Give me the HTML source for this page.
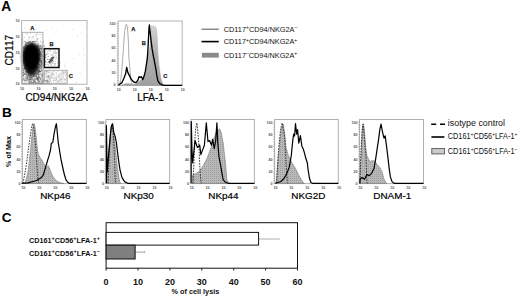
<!DOCTYPE html>
<html><head><meta charset="utf-8"><style>
html,body{margin:0;padding:0;background:#fff;}
svg{display:block;font-family:"Liberation Sans", sans-serif;}
</style></head><body>
<svg width="520" height="298" viewBox="0 0 520 298">
<rect width="520" height="298" fill="#fff"/>
<text x="1.2" y="11.1" font-size="13.8" font-weight="bold" text-anchor="start" fill="#000" >A</text>
<text x="1.9" y="116.9" font-size="13.6" font-weight="bold" text-anchor="start" fill="#000" >B</text>
<text x="1.8" y="221.5" font-size="13.5" font-weight="bold" text-anchor="start" fill="#000" >C</text>
<defs><filter id="bl1" x="-30%" y="-30%" width="160%" height="160%"><feGaussianBlur stdDeviation="1.8"/></filter><filter id="bl0" x="-5%" y="-5%" width="110%" height="110%"><feGaussianBlur stdDeviation="0.35"/></filter></defs>
<g filter="url(#bl0)">
<ellipse cx="31.3" cy="56.5" rx="9.4" ry="13.6" fill="#000" filter="url(#bl1)"/>
<ellipse cx="31.3" cy="66.5" rx="6.3" ry="9.2" fill="#000" fill-opacity="0.8" filter="url(#bl1)"/>
<path d="M31.0 47.0h1.0v1.0h-1.0zM32.6 72.8h1.0v1.0h-1.0zM29.5 62.6h1.0v1.0h-1.0zM26.2 74.1h1.0v1.0h-1.0zM28.5 65.2h1.0v1.0h-1.0zM25.6 71.4h1.0v1.0h-1.0zM31.3 55.8h1.0v1.0h-1.0zM38.2 64.5h1.0v1.0h-1.0zM28.3 82.3h1.0v1.0h-1.0zM27.6 47.0h1.0v1.0h-1.0zM33.6 68.6h1.0v1.0h-1.0zM32.9 73.3h1.0v1.0h-1.0zM31.6 61.8h1.0v1.0h-1.0zM26.0 64.9h1.0v1.0h-1.0zM30.8 69.5h1.0v1.0h-1.0zM34.8 52.0h1.0v1.0h-1.0zM23.7 61.8h1.0v1.0h-1.0zM28.5 50.0h1.0v1.0h-1.0zM24.0 52.3h1.0v1.0h-1.0zM29.7 59.3h1.0v1.0h-1.0zM24.2 62.2h1.0v1.0h-1.0zM32.5 44.9h1.0v1.0h-1.0zM31.8 76.2h1.0v1.0h-1.0zM30.0 68.7h1.0v1.0h-1.0zM28.1 54.7h1.0v1.0h-1.0zM30.7 57.2h1.0v1.0h-1.0zM31.6 63.1h1.0v1.0h-1.0zM22.7 61.8h1.0v1.0h-1.0zM28.4 42.5h1.0v1.0h-1.0zM25.7 64.8h1.0v1.0h-1.0zM36.7 41.0h1.0v1.0h-1.0zM26.6 67.2h1.0v1.0h-1.0zM30.8 61.4h1.0v1.0h-1.0zM35.8 57.0h1.0v1.0h-1.0zM27.8 70.7h1.0v1.0h-1.0zM30.4 47.1h1.0v1.0h-1.0zM31.6 59.5h1.0v1.0h-1.0zM31.3 71.5h1.0v1.0h-1.0zM24.4 56.2h1.0v1.0h-1.0zM31.4 54.1h1.0v1.0h-1.0zM38.3 59.1h1.0v1.0h-1.0zM22.6 53.9h1.0v1.0h-1.0zM35.6 72.3h1.0v1.0h-1.0zM31.6 49.6h1.0v1.0h-1.0zM27.5 66.1h1.0v1.0h-1.0zM41.8 46.4h1.0v1.0h-1.0zM35.1 64.2h1.0v1.0h-1.0zM24.5 57.0h1.0v1.0h-1.0zM34.1 57.9h1.0v1.0h-1.0zM30.0 48.1h1.0v1.0h-1.0zM34.7 53.9h1.0v1.0h-1.0zM30.6 72.2h1.0v1.0h-1.0zM34.6 47.7h1.0v1.0h-1.0zM38.8 48.2h1.0v1.0h-1.0zM27.4 71.3h1.0v1.0h-1.0zM32.1 59.1h1.0v1.0h-1.0zM28.5 72.3h1.0v1.0h-1.0zM31.7 61.0h1.0v1.0h-1.0zM24.6 49.8h1.0v1.0h-1.0zM27.9 57.4h1.0v1.0h-1.0zM29.9 69.4h1.0v1.0h-1.0zM35.9 66.7h1.0v1.0h-1.0zM37.2 58.0h1.0v1.0h-1.0zM23.9 58.5h1.0v1.0h-1.0zM26.7 57.0h1.0v1.0h-1.0zM34.5 52.6h1.0v1.0h-1.0zM28.5 58.1h1.0v1.0h-1.0zM30.5 47.5h1.0v1.0h-1.0zM37.8 53.6h1.0v1.0h-1.0zM34.7 64.7h1.0v1.0h-1.0zM29.2 63.9h1.0v1.0h-1.0zM29.0 56.7h1.0v1.0h-1.0zM29.6 51.8h1.0v1.0h-1.0zM39.2 58.2h1.0v1.0h-1.0zM28.7 42.5h1.0v1.0h-1.0zM29.4 46.0h1.0v1.0h-1.0zM32.9 65.4h1.0v1.0h-1.0zM30.3 53.6h1.0v1.0h-1.0zM29.9 61.5h1.0v1.0h-1.0zM25.0 69.3h1.0v1.0h-1.0zM30.9 64.0h1.0v1.0h-1.0zM28.6 58.2h1.0v1.0h-1.0zM37.3 77.7h1.0v1.0h-1.0zM34.5 64.2h1.0v1.0h-1.0zM30.9 54.7h1.0v1.0h-1.0zM34.6 64.8h1.0v1.0h-1.0zM29.2 61.8h1.0v1.0h-1.0zM36.7 50.1h1.0v1.0h-1.0zM31.0 58.7h1.0v1.0h-1.0zM34.2 56.5h1.0v1.0h-1.0zM32.9 56.4h1.0v1.0h-1.0zM29.4 42.8h1.0v1.0h-1.0zM26.1 54.7h1.0v1.0h-1.0zM31.9 57.6h1.0v1.0h-1.0zM43.1 58.9h1.0v1.0h-1.0zM26.5 47.5h1.0v1.0h-1.0zM27.6 63.9h1.0v1.0h-1.0zM32.1 46.8h1.0v1.0h-1.0zM33.7 55.9h1.0v1.0h-1.0zM30.0 70.1h1.0v1.0h-1.0zM29.9 51.6h1.0v1.0h-1.0zM34.8 53.3h1.0v1.0h-1.0zM33.8 67.9h1.0v1.0h-1.0zM25.4 54.4h1.0v1.0h-1.0zM30.6 55.3h1.0v1.0h-1.0zM31.2 60.0h1.0v1.0h-1.0zM25.3 67.7h1.0v1.0h-1.0zM26.4 50.3h1.0v1.0h-1.0zM36.2 48.7h1.0v1.0h-1.0zM32.0 48.0h1.0v1.0h-1.0zM31.5 50.1h1.0v1.0h-1.0zM27.8 50.2h1.0v1.0h-1.0zM30.4 60.8h1.0v1.0h-1.0zM24.9 59.1h1.0v1.0h-1.0zM33.0 61.7h1.0v1.0h-1.0zM35.6 59.2h1.0v1.0h-1.0zM35.1 61.0h1.0v1.0h-1.0zM26.4 52.1h1.0v1.0h-1.0zM35.2 57.4h1.0v1.0h-1.0zM31.7 49.6h1.0v1.0h-1.0zM22.7 60.5h1.0v1.0h-1.0zM37.7 65.9h1.0v1.0h-1.0zM38.8 50.5h1.0v1.0h-1.0zM30.6 56.1h1.0v1.0h-1.0zM29.5 68.2h1.0v1.0h-1.0zM30.1 53.4h1.0v1.0h-1.0zM25.7 59.7h1.0v1.0h-1.0zM36.9 48.6h1.0v1.0h-1.0zM28.1 50.5h1.0v1.0h-1.0zM30.7 53.3h1.0v1.0h-1.0zM26.7 77.6h1.0v1.0h-1.0zM27.6 54.3h1.0v1.0h-1.0zM24.1 53.2h1.0v1.0h-1.0zM37.8 52.9h1.0v1.0h-1.0zM30.2 56.5h1.0v1.0h-1.0zM36.2 63.9h1.0v1.0h-1.0zM31.1 59.7h1.0v1.0h-1.0zM27.3 76.5h1.0v1.0h-1.0zM29.2 59.9h1.0v1.0h-1.0zM28.0 71.0h1.0v1.0h-1.0zM31.0 60.5h1.0v1.0h-1.0zM29.0 63.5h1.0v1.0h-1.0zM29.4 45.0h1.0v1.0h-1.0zM23.6 56.9h1.0v1.0h-1.0zM26.6 57.4h1.0v1.0h-1.0zM39.9 55.8h1.0v1.0h-1.0zM25.3 65.9h1.0v1.0h-1.0zM32.8 54.5h1.0v1.0h-1.0zM38.6 54.1h1.0v1.0h-1.0zM23.1 55.7h1.0v1.0h-1.0zM29.9 55.9h1.0v1.0h-1.0zM27.6 61.7h1.0v1.0h-1.0zM35.0 49.6h1.0v1.0h-1.0zM30.9 60.6h1.0v1.0h-1.0zM31.4 59.3h1.0v1.0h-1.0zM26.9 54.6h1.0v1.0h-1.0zM33.5 52.8h1.0v1.0h-1.0zM28.1 50.5h1.0v1.0h-1.0zM30.2 57.5h1.0v1.0h-1.0zM25.0 68.6h1.0v1.0h-1.0zM24.4 48.5h1.0v1.0h-1.0zM38.2 71.7h1.0v1.0h-1.0zM28.3 65.6h1.0v1.0h-1.0zM32.6 53.9h1.0v1.0h-1.0zM30.8 65.0h1.0v1.0h-1.0zM28.6 44.8h1.0v1.0h-1.0zM28.3 42.4h1.0v1.0h-1.0zM34.4 46.4h1.0v1.0h-1.0zM29.4 54.3h1.0v1.0h-1.0zM30.2 55.1h1.0v1.0h-1.0zM31.1 53.4h1.0v1.0h-1.0zM37.4 58.9h1.0v1.0h-1.0zM33.1 62.5h1.0v1.0h-1.0zM28.0 45.2h1.0v1.0h-1.0zM23.5 52.1h1.0v1.0h-1.0zM36.1 54.3h1.0v1.0h-1.0zM36.2 47.6h1.0v1.0h-1.0zM30.2 45.7h1.0v1.0h-1.0zM33.9 48.9h1.0v1.0h-1.0zM35.2 57.9h1.0v1.0h-1.0zM35.5 63.3h1.0v1.0h-1.0zM36.0 63.1h1.0v1.0h-1.0zM28.5 49.0h1.0v1.0h-1.0zM39.2 50.9h1.0v1.0h-1.0zM24.3 49.7h1.0v1.0h-1.0zM35.7 62.0h1.0v1.0h-1.0zM35.7 69.1h1.0v1.0h-1.0zM41.1 53.6h1.0v1.0h-1.0zM39.0 50.9h1.0v1.0h-1.0zM24.8 61.1h1.0v1.0h-1.0zM35.4 61.1h1.0v1.0h-1.0zM25.5 67.5h1.0v1.0h-1.0zM30.9 59.2h1.0v1.0h-1.0zM35.5 69.1h1.0v1.0h-1.0zM22.1 69.2h1.0v1.0h-1.0zM32.4 71.0h1.0v1.0h-1.0zM31.2 59.5h1.0v1.0h-1.0zM29.7 58.8h1.0v1.0h-1.0zM31.2 49.7h1.0v1.0h-1.0zM26.4 55.4h1.0v1.0h-1.0zM22.8 65.0h1.0v1.0h-1.0zM30.1 46.2h1.0v1.0h-1.0zM25.8 63.8h1.0v1.0h-1.0zM22.1 61.1h1.0v1.0h-1.0zM33.7 60.5h1.0v1.0h-1.0zM33.2 57.1h1.0v1.0h-1.0zM25.7 63.8h1.0v1.0h-1.0zM27.4 51.1h1.0v1.0h-1.0zM25.6 58.8h1.0v1.0h-1.0zM32.1 64.0h1.0v1.0h-1.0zM26.8 52.0h1.0v1.0h-1.0zM32.9 65.8h1.0v1.0h-1.0zM32.8 41.4h1.0v1.0h-1.0zM41.9 64.2h1.0v1.0h-1.0zM23.5 55.9h1.0v1.0h-1.0zM35.8 65.3h1.0v1.0h-1.0zM30.5 49.7h1.0v1.0h-1.0zM30.9 52.4h1.0v1.0h-1.0zM23.2 78.2h1.0v1.0h-1.0zM28.5 50.5h1.0v1.0h-1.0zM35.0 51.6h1.0v1.0h-1.0zM30.6 55.5h1.0v1.0h-1.0zM31.4 48.8h1.0v1.0h-1.0zM29.4 68.7h1.0v1.0h-1.0zM37.2 73.5h1.0v1.0h-1.0zM30.9 51.7h1.0v1.0h-1.0zM27.3 68.5h1.0v1.0h-1.0zM28.1 68.4h1.0v1.0h-1.0zM38.2 50.2h1.0v1.0h-1.0zM31.3 56.5h1.0v1.0h-1.0zM24.7 45.5h1.0v1.0h-1.0zM25.9 45.2h1.0v1.0h-1.0zM37.1 66.8h1.0v1.0h-1.0zM31.9 52.0h1.0v1.0h-1.0zM31.3 78.5h1.0v1.0h-1.0zM30.7 58.7h1.0v1.0h-1.0zM31.2 52.2h1.0v1.0h-1.0zM35.3 65.2h1.0v1.0h-1.0zM34.0 74.2h1.0v1.0h-1.0zM32.2 62.4h1.0v1.0h-1.0zM25.4 47.0h1.0v1.0h-1.0zM33.8 61.3h1.0v1.0h-1.0zM27.3 70.4h1.0v1.0h-1.0zM36.9 53.6h1.0v1.0h-1.0zM24.1 51.0h1.0v1.0h-1.0zM30.3 67.1h1.0v1.0h-1.0zM31.0 59.3h1.0v1.0h-1.0zM23.8 48.1h1.0v1.0h-1.0zM40.3 54.6h1.0v1.0h-1.0zM38.9 51.2h1.0v1.0h-1.0zM28.5 60.7h1.0v1.0h-1.0zM35.2 59.0h1.0v1.0h-1.0zM33.0 68.4h1.0v1.0h-1.0zM32.4 43.9h1.0v1.0h-1.0zM30.7 61.7h1.0v1.0h-1.0zM31.4 66.1h1.0v1.0h-1.0zM25.2 62.1h1.0v1.0h-1.0zM29.5 67.3h1.0v1.0h-1.0zM30.0 53.1h1.0v1.0h-1.0zM37.4 49.4h1.0v1.0h-1.0zM32.8 66.4h1.0v1.0h-1.0zM31.0 48.4h1.0v1.0h-1.0zM28.0 67.2h1.0v1.0h-1.0zM28.9 51.5h1.0v1.0h-1.0zM39.5 45.4h1.0v1.0h-1.0zM36.2 46.1h1.0v1.0h-1.0zM36.0 47.6h1.0v1.0h-1.0zM34.6 54.8h1.0v1.0h-1.0zM31.6 61.3h1.0v1.0h-1.0zM29.6 64.8h1.0v1.0h-1.0zM29.9 47.4h1.0v1.0h-1.0zM31.3 48.4h1.0v1.0h-1.0zM39.2 64.1h1.0v1.0h-1.0zM34.0 57.3h1.0v1.0h-1.0zM30.7 44.2h1.0v1.0h-1.0zM27.9 74.6h1.0v1.0h-1.0zM27.6 50.3h1.0v1.0h-1.0zM39.7 60.2h1.0v1.0h-1.0zM33.7 59.8h1.0v1.0h-1.0zM31.4 70.7h1.0v1.0h-1.0zM29.1 53.9h1.0v1.0h-1.0zM25.0 67.1h1.0v1.0h-1.0zM30.6 51.3h1.0v1.0h-1.0zM35.7 68.1h1.0v1.0h-1.0zM28.9 51.1h1.0v1.0h-1.0zM29.8 54.7h1.0v1.0h-1.0zM29.8 75.1h1.0v1.0h-1.0zM31.6 60.9h1.0v1.0h-1.0zM22.4 59.0h1.0v1.0h-1.0zM29.7 78.2h1.0v1.0h-1.0zM26.4 61.3h1.0v1.0h-1.0zM35.8 50.7h1.0v1.0h-1.0zM26.8 64.6h1.0v1.0h-1.0zM34.1 47.4h1.0v1.0h-1.0zM39.2 68.2h1.0v1.0h-1.0zM29.3 68.9h1.0v1.0h-1.0zM27.8 52.8h1.0v1.0h-1.0zM32.0 52.3h1.0v1.0h-1.0zM31.0 59.6h1.0v1.0h-1.0zM25.6 58.1h1.0v1.0h-1.0zM33.5 49.2h1.0v1.0h-1.0zM41.9 63.1h1.0v1.0h-1.0zM29.9 54.1h1.0v1.0h-1.0zM25.4 54.4h1.0v1.0h-1.0zM32.7 55.5h1.0v1.0h-1.0zM24.3 60.8h1.0v1.0h-1.0zM25.0 46.9h1.0v1.0h-1.0zM37.9 63.3h1.0v1.0h-1.0zM26.1 56.4h1.0v1.0h-1.0zM36.8 52.1h1.0v1.0h-1.0zM39.2 45.7h1.0v1.0h-1.0zM32.4 47.4h1.0v1.0h-1.0zM34.0 61.2h1.0v1.0h-1.0zM41.5 49.3h1.0v1.0h-1.0zM29.9 58.6h1.0v1.0h-1.0zM27.8 67.6h1.0v1.0h-1.0zM23.7 67.3h1.0v1.0h-1.0zM31.2 72.0h1.0v1.0h-1.0zM39.0 55.3h1.0v1.0h-1.0zM36.2 48.2h1.0v1.0h-1.0zM25.9 67.2h1.0v1.0h-1.0zM26.4 60.8h1.0v1.0h-1.0zM28.3 68.1h1.0v1.0h-1.0zM32.6 58.1h1.0v1.0h-1.0zM29.9 68.8h1.0v1.0h-1.0zM32.2 65.6h1.0v1.0h-1.0zM32.6 64.4h1.0v1.0h-1.0zM29.4 62.5h1.0v1.0h-1.0zM30.8 61.6h1.0v1.0h-1.0zM32.1 60.1h1.0v1.0h-1.0zM30.5 60.0h1.0v1.0h-1.0zM33.7 66.9h1.0v1.0h-1.0zM41.1 53.4h1.0v1.0h-1.0zM34.2 73.6h1.0v1.0h-1.0zM31.3 57.0h1.0v1.0h-1.0zM33.1 57.2h1.0v1.0h-1.0zM23.4 76.3h1.0v1.0h-1.0zM35.6 55.2h1.0v1.0h-1.0zM34.8 46.5h1.0v1.0h-1.0zM30.2 51.6h1.0v1.0h-1.0zM29.0 77.4h1.0v1.0h-1.0zM27.3 59.9h1.0v1.0h-1.0zM34.4 66.4h1.0v1.0h-1.0zM43.2 49.0h1.0v1.0h-1.0zM32.2 61.2h1.0v1.0h-1.0zM26.8 64.0h1.0v1.0h-1.0zM24.7 74.2h1.0v1.0h-1.0zM30.7 51.7h1.0v1.0h-1.0zM30.0 63.4h1.0v1.0h-1.0zM24.8 60.7h1.0v1.0h-1.0zM31.6 48.8h1.0v1.0h-1.0zM24.8 57.8h1.0v1.0h-1.0zM37.0 55.6h1.0v1.0h-1.0zM36.9 63.4h1.0v1.0h-1.0zM28.4 62.9h1.0v1.0h-1.0zM33.8 54.0h1.0v1.0h-1.0zM30.3 46.0h1.0v1.0h-1.0zM28.9 71.3h1.0v1.0h-1.0zM29.2 60.4h1.0v1.0h-1.0zM24.0 67.2h1.0v1.0h-1.0zM23.2 70.7h1.0v1.0h-1.0zM35.3 53.3h1.0v1.0h-1.0zM30.0 65.3h1.0v1.0h-1.0zM32.2 55.8h1.0v1.0h-1.0zM36.4 57.4h1.0v1.0h-1.0zM26.8 58.0h1.0v1.0h-1.0zM31.9 68.0h1.0v1.0h-1.0zM33.1 59.1h1.0v1.0h-1.0zM29.0 56.6h1.0v1.0h-1.0zM36.6 55.5h1.0v1.0h-1.0zM32.1 61.1h1.0v1.0h-1.0zM24.4 49.9h1.0v1.0h-1.0zM26.0 53.5h1.0v1.0h-1.0zM35.3 57.5h1.0v1.0h-1.0zM33.5 52.9h1.0v1.0h-1.0zM38.3 52.5h1.0v1.0h-1.0zM34.2 76.0h1.0v1.0h-1.0zM38.3 70.0h1.0v1.0h-1.0zM28.9 62.0h1.0v1.0h-1.0zM29.4 57.5h1.0v1.0h-1.0zM24.9 77.7h1.0v1.0h-1.0zM44.7 60.9h1.0v1.0h-1.0zM30.1 57.2h1.0v1.0h-1.0zM39.6 60.7h1.0v1.0h-1.0zM27.5 60.8h1.0v1.0h-1.0zM31.9 70.7h1.0v1.0h-1.0zM28.9 76.9h1.0v1.0h-1.0zM36.3 50.1h1.0v1.0h-1.0zM24.2 64.2h1.0v1.0h-1.0zM36.8 49.0h1.0v1.0h-1.0zM32.8 74.4h1.0v1.0h-1.0zM25.4 55.0h1.0v1.0h-1.0zM28.3 57.5h1.0v1.0h-1.0zM28.5 66.3h1.0v1.0h-1.0zM30.7 69.3h1.0v1.0h-1.0zM28.1 48.0h1.0v1.0h-1.0zM26.5 54.9h1.0v1.0h-1.0zM29.4 45.4h1.0v1.0h-1.0zM25.5 59.2h1.0v1.0h-1.0zM24.0 57.1h1.0v1.0h-1.0zM30.7 54.9h1.0v1.0h-1.0zM35.8 51.8h1.0v1.0h-1.0zM22.7 54.5h1.0v1.0h-1.0zM31.0 51.3h1.0v1.0h-1.0zM27.5 62.8h1.0v1.0h-1.0zM25.7 71.6h1.0v1.0h-1.0zM35.6 40.6h1.0v1.0h-1.0zM28.2 57.0h1.0v1.0h-1.0zM39.1 54.2h1.0v1.0h-1.0zM26.8 62.4h1.0v1.0h-1.0zM33.1 49.4h1.0v1.0h-1.0zM29.8 56.7h1.0v1.0h-1.0zM26.9 48.6h1.0v1.0h-1.0zM34.2 64.3h1.0v1.0h-1.0zM30.2 58.9h1.0v1.0h-1.0zM34.3 56.5h1.0v1.0h-1.0zM30.7 61.3h1.0v1.0h-1.0zM25.1 55.8h1.0v1.0h-1.0zM30.4 44.0h1.0v1.0h-1.0zM31.3 63.4h1.0v1.0h-1.0zM36.2 60.6h1.0v1.0h-1.0zM26.1 56.6h1.0v1.0h-1.0zM30.8 66.9h1.0v1.0h-1.0zM34.5 48.2h1.0v1.0h-1.0zM25.2 51.0h1.0v1.0h-1.0zM30.7 70.8h1.0v1.0h-1.0zM37.0 51.4h1.0v1.0h-1.0zM22.8 47.4h1.0v1.0h-1.0zM25.1 52.3h1.0v1.0h-1.0zM27.0 53.5h1.0v1.0h-1.0zM24.9 43.7h1.0v1.0h-1.0zM33.0 58.3h1.0v1.0h-1.0zM26.6 46.5h1.0v1.0h-1.0zM27.1 47.1h1.0v1.0h-1.0zM34.1 66.2h1.0v1.0h-1.0zM26.9 51.9h1.0v1.0h-1.0zM33.3 57.4h1.0v1.0h-1.0zM25.8 63.7h1.0v1.0h-1.0zM24.5 65.3h1.0v1.0h-1.0zM41.1 58.4h1.0v1.0h-1.0zM29.3 50.6h1.0v1.0h-1.0zM32.3 73.7h1.0v1.0h-1.0zM30.8 63.8h1.0v1.0h-1.0zM31.9 48.1h1.0v1.0h-1.0zM31.3 58.0h1.0v1.0h-1.0zM41.3 64.4h1.0v1.0h-1.0zM25.4 62.3h1.0v1.0h-1.0zM22.6 74.5h1.0v1.0h-1.0zM25.5 70.4h1.0v1.0h-1.0zM23.8 53.1h1.0v1.0h-1.0zM35.0 57.2h1.0v1.0h-1.0zM35.4 46.5h1.0v1.0h-1.0zM25.8 60.2h1.0v1.0h-1.0zM23.5 59.4h1.0v1.0h-1.0zM29.1 82.3h1.0v1.0h-1.0zM38.5 58.9h1.0v1.0h-1.0zM33.8 52.0h1.0v1.0h-1.0zM25.2 59.0h1.0v1.0h-1.0zM36.6 46.7h1.0v1.0h-1.0zM25.2 50.2h1.0v1.0h-1.0zM29.5 54.7h1.0v1.0h-1.0zM22.9 61.1h1.0v1.0h-1.0zM25.7 56.5h1.0v1.0h-1.0zM38.5 50.0h1.0v1.0h-1.0zM35.4 65.1h1.0v1.0h-1.0zM28.8 53.1h1.0v1.0h-1.0zM26.3 53.5h1.0v1.0h-1.0zM28.9 50.9h1.0v1.0h-1.0zM30.8 63.9h1.0v1.0h-1.0zM30.5 43.4h1.0v1.0h-1.0zM30.5 57.4h1.0v1.0h-1.0zM24.9 64.5h1.0v1.0h-1.0zM30.6 54.6h1.0v1.0h-1.0zM30.8 60.2h1.0v1.0h-1.0zM38.0 47.9h1.0v1.0h-1.0zM41.1 69.8h1.0v1.0h-1.0zM30.3 67.9h1.0v1.0h-1.0zM26.9 60.1h1.0v1.0h-1.0zM30.6 42.2h1.0v1.0h-1.0zM27.7 48.6h1.0v1.0h-1.0zM27.0 66.8h1.0v1.0h-1.0zM30.7 73.4h1.0v1.0h-1.0zM25.4 60.7h1.0v1.0h-1.0zM34.3 69.2h1.0v1.0h-1.0zM30.4 52.5h1.0v1.0h-1.0zM32.4 56.3h1.0v1.0h-1.0zM30.0 58.0h1.0v1.0h-1.0zM27.1 61.8h1.0v1.0h-1.0zM25.9 44.2h1.0v1.0h-1.0zM29.7 66.5h1.0v1.0h-1.0zM28.0 69.9h1.0v1.0h-1.0zM32.3 47.7h1.0v1.0h-1.0zM31.0 45.8h1.0v1.0h-1.0zM23.6 61.2h1.0v1.0h-1.0zM31.4 52.1h1.0v1.0h-1.0zM27.7 65.3h1.0v1.0h-1.0zM29.4 59.4h1.0v1.0h-1.0zM31.5 77.0h1.0v1.0h-1.0zM31.8 59.3h1.0v1.0h-1.0zM30.1 51.2h1.0v1.0h-1.0zM28.7 58.9h1.0v1.0h-1.0zM29.0 48.6h1.0v1.0h-1.0zM25.7 51.1h1.0v1.0h-1.0zM29.5 61.5h1.0v1.0h-1.0zM28.0 53.0h1.0v1.0h-1.0zM31.5 53.9h1.0v1.0h-1.0zM24.5 73.0h1.0v1.0h-1.0zM32.3 65.7h1.0v1.0h-1.0zM31.8 65.2h1.0v1.0h-1.0zM30.2 62.8h1.0v1.0h-1.0zM28.6 62.4h1.0v1.0h-1.0zM34.0 71.1h1.0v1.0h-1.0zM33.5 74.7h1.0v1.0h-1.0zM32.3 49.4h1.0v1.0h-1.0zM32.5 55.7h1.0v1.0h-1.0zM33.1 45.6h1.0v1.0h-1.0zM27.5 54.9h1.0v1.0h-1.0zM29.6 62.7h1.0v1.0h-1.0zM34.4 71.1h1.0v1.0h-1.0zM33.3 52.0h1.0v1.0h-1.0zM32.1 58.0h1.0v1.0h-1.0zM22.8 54.8h1.0v1.0h-1.0zM33.9 51.4h1.0v1.0h-1.0zM37.3 47.3h1.0v1.0h-1.0zM36.5 58.5h1.0v1.0h-1.0zM32.3 42.4h1.0v1.0h-1.0zM22.6 59.0h1.0v1.0h-1.0zM36.1 58.2h1.0v1.0h-1.0zM30.2 52.1h1.0v1.0h-1.0zM33.0 45.5h1.0v1.0h-1.0zM22.9 74.8h1.0v1.0h-1.0zM24.0 45.9h1.0v1.0h-1.0zM27.6 72.0h1.0v1.0h-1.0zM37.9 63.4h1.0v1.0h-1.0zM29.0 54.7h1.0v1.0h-1.0zM32.5 47.6h1.0v1.0h-1.0zM40.4 67.4h1.0v1.0h-1.0zM39.6 73.6h1.0v1.0h-1.0zM30.4 49.6h1.0v1.0h-1.0zM29.7 55.3h1.0v1.0h-1.0zM24.2 67.5h1.0v1.0h-1.0zM27.2 61.0h1.0v1.0h-1.0zM33.3 76.0h1.0v1.0h-1.0zM33.1 52.9h1.0v1.0h-1.0zM31.6 62.9h1.0v1.0h-1.0zM36.4 46.7h1.0v1.0h-1.0zM26.8 76.9h1.0v1.0h-1.0zM30.7 51.4h1.0v1.0h-1.0zM34.2 56.9h1.0v1.0h-1.0zM36.8 56.7h1.0v1.0h-1.0zM33.1 75.2h1.0v1.0h-1.0zM29.3 55.0h1.0v1.0h-1.0zM33.0 57.9h1.0v1.0h-1.0zM25.6 63.3h1.0v1.0h-1.0zM22.1 72.3h1.0v1.0h-1.0zM34.1 57.4h1.0v1.0h-1.0zM30.7 67.4h1.0v1.0h-1.0zM32.7 62.7h1.0v1.0h-1.0zM29.0 58.7h1.0v1.0h-1.0zM27.8 58.3h1.0v1.0h-1.0zM26.3 49.8h1.0v1.0h-1.0zM29.2 45.5h1.0v1.0h-1.0zM35.8 68.5h1.0v1.0h-1.0zM33.1 66.6h1.0v1.0h-1.0zM27.8 57.2h1.0v1.0h-1.0zM30.9 51.1h1.0v1.0h-1.0zM35.1 56.0h1.0v1.0h-1.0zM30.3 64.7h1.0v1.0h-1.0zM33.9 60.6h1.0v1.0h-1.0zM34.7 66.9h1.0v1.0h-1.0zM40.2 53.0h1.0v1.0h-1.0zM37.1 60.1h1.0v1.0h-1.0zM32.7 43.9h1.0v1.0h-1.0zM32.6 64.9h1.0v1.0h-1.0zM35.2 59.4h1.0v1.0h-1.0zM28.1 54.3h1.0v1.0h-1.0zM30.8 68.5h1.0v1.0h-1.0zM35.9 64.2h1.0v1.0h-1.0zM30.1 58.4h1.0v1.0h-1.0zM30.7 44.9h1.0v1.0h-1.0zM32.1 67.6h1.0v1.0h-1.0zM38.3 80.4h1.0v1.0h-1.0zM30.8 53.3h1.0v1.0h-1.0zM38.9 58.7h1.0v1.0h-1.0zM25.8 55.7h1.0v1.0h-1.0zM30.0 61.2h1.0v1.0h-1.0zM29.9 63.8h1.0v1.0h-1.0zM35.2 69.6h1.0v1.0h-1.0zM36.6 49.1h1.0v1.0h-1.0zM22.8 72.1h1.0v1.0h-1.0zM26.1 49.6h1.0v1.0h-1.0zM32.8 60.5h1.0v1.0h-1.0zM27.4 68.4h1.0v1.0h-1.0zM22.8 64.4h1.0v1.0h-1.0zM36.6 49.6h1.0v1.0h-1.0zM33.7 51.7h1.0v1.0h-1.0zM33.7 53.8h1.0v1.0h-1.0zM28.4 57.5h1.0v1.0h-1.0zM36.6 68.3h1.0v1.0h-1.0zM29.7 46.4h1.0v1.0h-1.0zM36.9 62.2h1.0v1.0h-1.0zM26.1 63.5h1.0v1.0h-1.0zM26.4 63.0h1.0v1.0h-1.0zM32.1 62.2h1.0v1.0h-1.0zM27.2 71.7h1.0v1.0h-1.0zM34.6 62.4h1.0v1.0h-1.0zM32.4 65.7h1.0v1.0h-1.0zM26.0 63.1h1.0v1.0h-1.0zM31.4 74.1h1.0v1.0h-1.0zM29.1 40.9h1.0v1.0h-1.0zM35.9 69.5h1.0v1.0h-1.0zM27.6 55.7h1.0v1.0h-1.0zM28.6 55.5h1.0v1.0h-1.0zM37.5 49.3h1.0v1.0h-1.0zM43.1 41.2h1.0v1.0h-1.0zM41.8 54.6h1.0v1.0h-1.0zM31.3 51.8h1.0v1.0h-1.0zM32.2 62.4h1.0v1.0h-1.0zM39.3 44.7h1.0v1.0h-1.0zM30.3 70.9h1.0v1.0h-1.0zM25.7 60.4h1.0v1.0h-1.0zM31.6 55.8h1.0v1.0h-1.0zM33.4 51.6h1.0v1.0h-1.0zM26.5 50.9h1.0v1.0h-1.0zM22.1 47.8h1.0v1.0h-1.0zM23.2 53.1h1.0v1.0h-1.0zM34.6 58.1h1.0v1.0h-1.0zM26.9 56.4h1.0v1.0h-1.0zM30.2 45.3h1.0v1.0h-1.0zM32.1 55.6h1.0v1.0h-1.0zM34.3 50.0h1.0v1.0h-1.0zM29.2 59.4h1.0v1.0h-1.0zM33.7 74.8h1.0v1.0h-1.0zM26.2 63.6h1.0v1.0h-1.0zM29.0 55.2h1.0v1.0h-1.0zM25.5 43.4h1.0v1.0h-1.0zM37.1 45.3h1.0v1.0h-1.0zM30.9 42.8h1.0v1.0h-1.0zM27.0 64.5h1.0v1.0h-1.0zM29.1 51.1h1.0v1.0h-1.0zM29.8 58.6h1.0v1.0h-1.0zM34.8 52.4h1.0v1.0h-1.0zM22.4 58.8h1.0v1.0h-1.0zM25.4 70.6h1.0v1.0h-1.0zM29.0 51.8h1.0v1.0h-1.0zM44.7 54.9h1.0v1.0h-1.0zM36.2 50.7h1.0v1.0h-1.0zM30.4 65.9h1.0v1.0h-1.0zM34.8 48.8h1.0v1.0h-1.0zM42.1 47.8h1.0v1.0h-1.0zM29.7 45.5h1.0v1.0h-1.0zM29.0 45.3h1.0v1.0h-1.0zM37.5 62.2h1.0v1.0h-1.0zM33.7 81.1h1.0v1.0h-1.0zM34.6 49.0h1.0v1.0h-1.0zM28.3 66.6h1.0v1.0h-1.0zM41.4 60.3h1.0v1.0h-1.0zM40.2 48.1h1.0v1.0h-1.0zM34.1 55.5h1.0v1.0h-1.0zM34.7 55.9h1.0v1.0h-1.0zM34.4 75.4h1.0v1.0h-1.0zM30.0 40.8h1.0v1.0h-1.0zM33.3 61.4h1.0v1.0h-1.0zM34.7 61.0h1.0v1.0h-1.0zM29.2 52.8h1.0v1.0h-1.0zM33.0 65.9h1.0v1.0h-1.0zM27.0 59.4h1.0v1.0h-1.0zM29.2 61.8h1.0v1.0h-1.0zM27.7 64.2h1.0v1.0h-1.0zM37.6 78.5h1.0v1.0h-1.0zM32.4 66.8h1.0v1.0h-1.0zM37.0 67.1h1.0v1.0h-1.0zM41.7 45.3h1.0v1.0h-1.0zM31.1 56.9h1.0v1.0h-1.0zM26.2 52.7h1.0v1.0h-1.0zM24.5 66.7h1.0v1.0h-1.0zM28.3 50.8h1.0v1.0h-1.0zM31.4 56.8h1.0v1.0h-1.0zM32.8 56.6h1.0v1.0h-1.0zM22.8 58.8h1.0v1.0h-1.0zM32.6 51.7h1.0v1.0h-1.0zM30.4 51.5h1.0v1.0h-1.0zM29.3 75.0h1.0v1.0h-1.0zM30.6 47.1h1.0v1.0h-1.0zM28.1 48.5h1.0v1.0h-1.0zM27.7 50.7h1.0v1.0h-1.0zM30.8 76.9h1.0v1.0h-1.0zM41.0 61.0h1.0v1.0h-1.0zM41.7 51.5h1.0v1.0h-1.0zM38.1 54.2h1.0v1.0h-1.0zM34.8 67.6h1.0v1.0h-1.0zM27.3 49.8h1.0v1.0h-1.0zM38.8 71.1h1.0v1.0h-1.0zM30.7 70.7h1.0v1.0h-1.0zM30.6 58.6h1.0v1.0h-1.0zM29.4 63.8h1.0v1.0h-1.0zM31.5 64.7h1.0v1.0h-1.0zM28.6 72.0h1.0v1.0h-1.0zM30.5 48.5h1.0v1.0h-1.0zM25.1 68.6h1.0v1.0h-1.0zM29.0 54.6h1.0v1.0h-1.0zM43.3 51.1h1.0v1.0h-1.0zM30.6 58.9h1.0v1.0h-1.0zM29.7 56.1h1.0v1.0h-1.0zM33.9 49.1h1.0v1.0h-1.0zM34.8 43.6h1.0v1.0h-1.0zM25.0 49.5h1.0v1.0h-1.0zM29.9 71.1h1.0v1.0h-1.0zM36.0 75.7h1.0v1.0h-1.0zM32.5 63.9h1.0v1.0h-1.0zM31.7 68.7h1.0v1.0h-1.0zM39.4 53.3h1.0v1.0h-1.0zM27.3 57.3h1.0v1.0h-1.0zM31.4 60.5h1.0v1.0h-1.0zM28.2 48.3h1.0v1.0h-1.0zM39.0 49.1h1.0v1.0h-1.0zM27.4 55.1h1.0v1.0h-1.0zM28.1 48.4h1.0v1.0h-1.0zM34.6 61.5h1.0v1.0h-1.0zM34.3 55.6h1.0v1.0h-1.0zM38.5 67.2h1.0v1.0h-1.0zM22.5 58.0h1.0v1.0h-1.0zM35.1 55.3h1.0v1.0h-1.0zM29.4 59.1h1.0v1.0h-1.0zM27.4 56.5h1.0v1.0h-1.0zM33.9 52.0h1.0v1.0h-1.0zM26.0 54.4h1.0v1.0h-1.0zM29.0 63.8h1.0v1.0h-1.0zM22.9 69.6h1.0v1.0h-1.0zM27.5 42.8h1.0v1.0h-1.0zM33.0 54.5h1.0v1.0h-1.0zM32.7 54.3h1.0v1.0h-1.0zM39.6 59.5h1.0v1.0h-1.0zM29.9 53.9h1.0v1.0h-1.0zM22.7 53.4h1.0v1.0h-1.0zM26.9 65.0h1.0v1.0h-1.0zM26.0 59.6h1.0v1.0h-1.0zM24.4 47.5h1.0v1.0h-1.0zM33.4 70.0h1.0v1.0h-1.0zM27.5 67.0h1.0v1.0h-1.0zM34.8 65.5h1.0v1.0h-1.0zM30.4 51.4h1.0v1.0h-1.0zM32.9 68.1h1.0v1.0h-1.0zM31.6 56.0h1.0v1.0h-1.0zM34.4 50.8h1.0v1.0h-1.0zM31.2 54.6h1.0v1.0h-1.0zM37.7 51.1h1.0v1.0h-1.0zM33.3 59.7h1.0v1.0h-1.0zM33.1 59.6h1.0v1.0h-1.0zM33.2 58.3h1.0v1.0h-1.0zM23.1 53.0h1.0v1.0h-1.0zM29.6 58.8h1.0v1.0h-1.0zM32.1 40.9h1.0v1.0h-1.0zM23.7 60.2h1.0v1.0h-1.0zM39.8 68.2h1.0v1.0h-1.0zM31.6 60.5h1.0v1.0h-1.0zM24.5 54.5h1.0v1.0h-1.0zM29.5 56.8h1.0v1.0h-1.0zM30.5 53.1h1.0v1.0h-1.0zM27.1 52.7h1.0v1.0h-1.0zM31.5 49.7h1.0v1.0h-1.0zM27.5 68.7h1.0v1.0h-1.0zM34.0 57.9h1.0v1.0h-1.0zM27.1 66.6h1.0v1.0h-1.0zM30.8 55.7h1.0v1.0h-1.0zM36.3 58.6h1.0v1.0h-1.0zM44.9 56.5h1.0v1.0h-1.0zM25.6 62.2h1.0v1.0h-1.0zM28.5 65.4h1.0v1.0h-1.0zM26.5 60.2h1.0v1.0h-1.0zM35.2 51.9h1.0v1.0h-1.0zM24.8 51.0h1.0v1.0h-1.0zM28.4 72.9h1.0v1.0h-1.0zM30.8 55.5h1.0v1.0h-1.0zM25.7 55.4h1.0v1.0h-1.0zM25.8 71.2h1.0v1.0h-1.0zM28.4 67.8h1.0v1.0h-1.0zM23.2 54.4h1.0v1.0h-1.0zM28.8 79.2h1.0v1.0h-1.0zM31.8 61.5h1.0v1.0h-1.0zM30.0 62.9h1.0v1.0h-1.0zM28.5 45.3h1.0v1.0h-1.0zM35.3 46.0h1.0v1.0h-1.0zM34.0 61.7h1.0v1.0h-1.0zM30.6 61.5h1.0v1.0h-1.0zM26.2 55.8h1.0v1.0h-1.0zM34.4 47.5h1.0v1.0h-1.0zM27.9 45.0h1.0v1.0h-1.0zM24.7 55.0h1.0v1.0h-1.0zM26.7 44.9h1.0v1.0h-1.0zM38.8 66.1h1.0v1.0h-1.0zM32.2 68.4h1.0v1.0h-1.0zM37.3 83.5h1.0v1.0h-1.0zM28.4 65.9h1.0v1.0h-1.0zM36.1 52.7h1.0v1.0h-1.0zM27.8 50.2h1.0v1.0h-1.0zM44.4 52.6h1.0v1.0h-1.0zM35.1 56.4h1.0v1.0h-1.0zM28.3 66.7h1.0v1.0h-1.0zM30.5 63.5h1.0v1.0h-1.0zM32.8 63.3h1.0v1.0h-1.0zM37.5 59.9h1.0v1.0h-1.0zM28.4 63.9h1.0v1.0h-1.0zM29.5 48.4h1.0v1.0h-1.0zM31.1 53.9h1.0v1.0h-1.0zM31.6 45.5h1.0v1.0h-1.0zM38.1 72.6h1.0v1.0h-1.0zM32.7 69.7h1.0v1.0h-1.0zM35.4 64.8h1.0v1.0h-1.0zM25.1 47.2h1.0v1.0h-1.0zM35.7 59.6h1.0v1.0h-1.0zM42.3 55.9h1.0v1.0h-1.0zM35.2 58.7h1.0v1.0h-1.0zM32.4 56.3h1.0v1.0h-1.0zM31.8 62.7h1.0v1.0h-1.0zM40.7 54.4h1.0v1.0h-1.0zM26.0 65.7h1.0v1.0h-1.0zM30.4 60.2h1.0v1.0h-1.0zM33.5 55.4h1.0v1.0h-1.0zM35.0 57.0h1.0v1.0h-1.0zM28.6 54.0h1.0v1.0h-1.0zM32.7 65.3h1.0v1.0h-1.0zM29.5 55.6h1.0v1.0h-1.0zM31.7 60.7h1.0v1.0h-1.0zM30.3 54.5h1.0v1.0h-1.0zM24.8 44.6h1.0v1.0h-1.0zM30.9 66.2h1.0v1.0h-1.0zM35.7 48.5h1.0v1.0h-1.0zM25.8 64.1h1.0v1.0h-1.0zM29.7 61.8h1.0v1.0h-1.0zM34.6 43.1h1.0v1.0h-1.0zM25.2 49.5h1.0v1.0h-1.0zM32.0 53.4h1.0v1.0h-1.0zM25.3 50.6h1.0v1.0h-1.0zM37.1 47.4h1.0v1.0h-1.0zM43.5 64.7h1.0v1.0h-1.0zM41.9 55.8h1.0v1.0h-1.0zM29.8 61.5h1.0v1.0h-1.0zM35.0 54.1h1.0v1.0h-1.0zM31.7 60.7h1.0v1.0h-1.0zM31.6 51.2h1.0v1.0h-1.0zM39.4 57.8h1.0v1.0h-1.0zM23.9 63.2h1.0v1.0h-1.0zM36.7 58.4h1.0v1.0h-1.0zM30.7 53.9h1.0v1.0h-1.0zM38.6 48.2h1.0v1.0h-1.0zM32.0 59.5h1.0v1.0h-1.0zM27.4 61.1h1.0v1.0h-1.0zM32.5 55.7h1.0v1.0h-1.0zM35.0 51.1h1.0v1.0h-1.0zM31.2 62.9h1.0v1.0h-1.0zM33.6 80.3h1.0v1.0h-1.0zM28.2 55.3h1.0v1.0h-1.0zM35.9 61.4h1.0v1.0h-1.0zM31.8 59.1h1.0v1.0h-1.0zM31.4 51.6h1.0v1.0h-1.0zM36.6 70.5h1.0v1.0h-1.0zM28.5 55.7h1.0v1.0h-1.0zM27.2 51.0h1.0v1.0h-1.0zM30.0 56.0h1.0v1.0h-1.0zM37.4 59.5h1.0v1.0h-1.0zM23.5 53.0h1.0v1.0h-1.0zM37.4 57.5h1.0v1.0h-1.0zM27.5 45.8h1.0v1.0h-1.0zM25.1 56.0h1.0v1.0h-1.0zM37.8 65.0h1.0v1.0h-1.0zM30.5 75.7h1.0v1.0h-1.0zM24.0 64.4h1.0v1.0h-1.0zM29.1 60.4h1.0v1.0h-1.0zM36.0 68.7h1.0v1.0h-1.0zM37.4 67.2h1.0v1.0h-1.0zM28.7 73.0h1.0v1.0h-1.0zM33.2 67.7h1.0v1.0h-1.0zM34.9 56.9h1.0v1.0h-1.0zM27.5 60.3h1.0v1.0h-1.0zM32.9 59.6h1.0v1.0h-1.0zM30.8 60.7h1.0v1.0h-1.0zM28.1 59.8h1.0v1.0h-1.0zM28.3 51.0h1.0v1.0h-1.0zM31.2 52.0h1.0v1.0h-1.0zM28.7 58.6h1.0v1.0h-1.0zM37.0 58.0h1.0v1.0h-1.0zM32.2 42.9h1.0v1.0h-1.0zM35.8 64.2h1.0v1.0h-1.0zM37.5 65.8h1.0v1.0h-1.0zM34.2 58.9h1.0v1.0h-1.0zM43.3 73.0h1.0v1.0h-1.0zM26.5 74.8h1.0v1.0h-1.0zM35.4 47.1h1.0v1.0h-1.0zM29.3 67.3h1.0v1.0h-1.0zM41.0 62.0h1.0v1.0h-1.0zM40.2 61.8h1.0v1.0h-1.0zM25.8 51.5h1.0v1.0h-1.0zM34.6 52.7h1.0v1.0h-1.0zM35.3 50.6h1.0v1.0h-1.0zM35.0 51.2h1.0v1.0h-1.0zM30.6 57.1h1.0v1.0h-1.0zM33.5 44.9h1.0v1.0h-1.0zM34.5 48.6h1.0v1.0h-1.0zM30.6 63.2h1.0v1.0h-1.0zM36.5 57.4h1.0v1.0h-1.0zM34.4 41.0h1.0v1.0h-1.0zM25.4 50.9h1.0v1.0h-1.0zM36.2 53.0h1.0v1.0h-1.0zM29.8 58.3h1.0v1.0h-1.0zM26.2 52.7h1.0v1.0h-1.0zM33.0 66.4h1.0v1.0h-1.0zM26.1 57.5h1.0v1.0h-1.0zM26.1 58.2h1.0v1.0h-1.0zM22.5 58.1h1.0v1.0h-1.0zM30.9 64.4h1.0v1.0h-1.0zM33.7 53.8h1.0v1.0h-1.0zM36.5 68.1h1.0v1.0h-1.0zM30.2 62.1h1.0v1.0h-1.0zM36.7 59.4h1.0v1.0h-1.0zM31.1 58.4h1.0v1.0h-1.0zM30.5 62.7h1.0v1.0h-1.0zM34.1 67.1h1.0v1.0h-1.0zM36.7 66.5h1.0v1.0h-1.0zM29.2 61.4h1.0v1.0h-1.0zM29.7 65.9h1.0v1.0h-1.0zM30.1 59.1h1.0v1.0h-1.0zM31.4 69.3h1.0v1.0h-1.0zM26.1 57.8h1.0v1.0h-1.0zM28.8 70.0h1.0v1.0h-1.0zM33.5 59.0h1.0v1.0h-1.0zM26.5 47.5h1.0v1.0h-1.0zM32.9 56.2h1.0v1.0h-1.0zM33.1 50.0h1.0v1.0h-1.0zM28.7 76.9h1.0v1.0h-1.0zM41.9 62.5h1.0v1.0h-1.0zM33.0 43.9h1.0v1.0h-1.0zM40.6 62.9h1.0v1.0h-1.0zM36.2 54.4h1.0v1.0h-1.0zM27.4 75.3h1.0v1.0h-1.0zM28.9 48.5h1.0v1.0h-1.0zM31.3 58.6h1.0v1.0h-1.0zM31.3 54.9h1.0v1.0h-1.0zM29.5 54.3h1.0v1.0h-1.0zM29.8 61.8h1.0v1.0h-1.0zM33.0 40.8h1.0v1.0h-1.0zM27.1 68.5h1.0v1.0h-1.0zM27.1 52.9h1.0v1.0h-1.0zM29.8 79.1h1.0v1.0h-1.0zM32.5 61.9h1.0v1.0h-1.0zM23.3 56.3h1.0v1.0h-1.0zM25.2 62.7h1.0v1.0h-1.0zM25.8 64.4h1.0v1.0h-1.0zM39.6 53.4h1.0v1.0h-1.0zM25.3 41.9h1.0v1.0h-1.0zM34.5 76.3h1.0v1.0h-1.0zM23.6 54.9h1.0v1.0h-1.0zM32.6 52.5h1.0v1.0h-1.0zM29.3 61.0h1.0v1.0h-1.0zM30.7 44.0h1.0v1.0h-1.0zM34.1 45.8h1.0v1.0h-1.0zM40.5 53.5h1.0v1.0h-1.0zM32.1 53.3h1.0v1.0h-1.0zM31.7 58.6h1.0v1.0h-1.0zM25.7 68.1h1.0v1.0h-1.0zM34.2 53.7h1.0v1.0h-1.0zM29.7 62.4h1.0v1.0h-1.0zM35.5 63.4h1.0v1.0h-1.0zM30.8 48.2h1.0v1.0h-1.0zM40.4 60.1h1.0v1.0h-1.0zM29.4 67.6h1.0v1.0h-1.0zM35.8 62.1h1.0v1.0h-1.0zM29.1 58.1h1.0v1.0h-1.0zM26.7 45.9h1.0v1.0h-1.0zM29.6 59.0h1.0v1.0h-1.0zM23.5 51.1h1.0v1.0h-1.0zM31.6 64.4h1.0v1.0h-1.0zM44.2 56.9h1.0v1.0h-1.0zM37.2 50.7h1.0v1.0h-1.0zM25.0 66.3h1.0v1.0h-1.0zM26.3 64.5h1.0v1.0h-1.0zM28.8 52.7h1.0v1.0h-1.0zM36.4 68.5h1.0v1.0h-1.0zM26.6 55.3h1.0v1.0h-1.0zM27.3 55.2h1.0v1.0h-1.0zM35.8 59.1h1.0v1.0h-1.0zM35.7 51.2h1.0v1.0h-1.0zM29.0 54.0h1.0v1.0h-1.0zM25.0 56.6h1.0v1.0h-1.0zM22.6 71.8h1.0v1.0h-1.0zM27.2 71.5h1.0v1.0h-1.0zM35.0 72.5h1.0v1.0h-1.0zM27.6 57.6h1.0v1.0h-1.0zM33.6 61.4h1.0v1.0h-1.0zM41.1 66.0h1.0v1.0h-1.0zM37.3 60.6h1.0v1.0h-1.0zM24.8 79.7h1.0v1.0h-1.0zM35.7 60.2h1.0v1.0h-1.0zM37.3 47.2h1.0v1.0h-1.0zM27.0 69.7h1.0v1.0h-1.0zM25.9 54.3h1.0v1.0h-1.0zM30.4 55.3h1.0v1.0h-1.0zM38.9 67.0h1.0v1.0h-1.0zM25.0 65.2h1.0v1.0h-1.0zM29.5 66.8h1.0v1.0h-1.0zM29.8 73.2h1.0v1.0h-1.0zM31.9 57.6h1.0v1.0h-1.0zM32.5 66.4h1.0v1.0h-1.0zM29.8 51.3h1.0v1.0h-1.0zM37.1 54.8h1.0v1.0h-1.0zM31.0 61.5h1.0v1.0h-1.0zM27.1 46.0h1.0v1.0h-1.0zM31.7 61.3h1.0v1.0h-1.0zM32.2 56.4h1.0v1.0h-1.0zM26.1 50.6h1.0v1.0h-1.0zM27.5 61.9h1.0v1.0h-1.0zM35.3 54.4h1.0v1.0h-1.0zM32.9 43.9h1.0v1.0h-1.0zM27.3 48.0h1.0v1.0h-1.0zM42.0 73.9h1.0v1.0h-1.0zM43.5 44.4h1.0v1.0h-1.0zM23.1 60.0h1.0v1.0h-1.0zM32.6 63.5h1.0v1.0h-1.0zM44.5 63.8h1.0v1.0h-1.0zM35.2 47.0h1.0v1.0h-1.0zM32.2 55.1h1.0v1.0h-1.0zM29.9 59.3h1.0v1.0h-1.0zM28.1 65.2h1.0v1.0h-1.0zM29.9 52.2h1.0v1.0h-1.0zM28.0 47.5h1.0v1.0h-1.0zM35.0 67.0h1.0v1.0h-1.0zM28.8 67.9h1.0v1.0h-1.0zM28.6 61.3h1.0v1.0h-1.0zM24.5 52.5h1.0v1.0h-1.0zM30.7 61.7h1.0v1.0h-1.0zM26.2 59.0h1.0v1.0h-1.0zM30.0 65.5h1.0v1.0h-1.0zM36.6 46.8h1.0v1.0h-1.0zM33.0 59.0h1.0v1.0h-1.0zM33.7 56.6h1.0v1.0h-1.0zM32.9 48.0h1.0v1.0h-1.0zM31.3 59.9h1.0v1.0h-1.0zM30.3 58.3h1.0v1.0h-1.0zM29.3 54.3h1.0v1.0h-1.0zM35.1 61.6h1.0v1.0h-1.0zM25.1 45.2h1.0v1.0h-1.0zM38.2 57.5h1.0v1.0h-1.0zM31.2 61.9h1.0v1.0h-1.0zM27.0 60.6h1.0v1.0h-1.0zM28.4 67.7h1.0v1.0h-1.0zM27.3 47.2h1.0v1.0h-1.0zM31.9 44.4h1.0v1.0h-1.0zM27.1 60.2h1.0v1.0h-1.0zM37.2 62.1h1.0v1.0h-1.0zM26.8 77.1h1.0v1.0h-1.0zM27.1 50.1h1.0v1.0h-1.0zM30.8 50.4h1.0v1.0h-1.0zM36.7 44.6h1.0v1.0h-1.0zM34.5 81.5h1.0v1.0h-1.0zM23.8 60.9h1.0v1.0h-1.0zM26.9 64.4h1.0v1.0h-1.0zM40.6 63.1h1.0v1.0h-1.0zM32.7 74.3h1.0v1.0h-1.0zM31.0 60.6h1.0v1.0h-1.0zM36.7 69.0h1.0v1.0h-1.0zM44.2 48.8h1.0v1.0h-1.0zM38.0 45.5h1.0v1.0h-1.0zM31.8 70.8h1.0v1.0h-1.0zM32.9 71.3h1.0v1.0h-1.0zM34.3 62.6h1.0v1.0h-1.0zM27.7 60.0h1.0v1.0h-1.0zM25.3 59.5h1.0v1.0h-1.0zM31.3 51.8h1.0v1.0h-1.0zM25.9 71.8h1.0v1.0h-1.0zM30.7 63.9h1.0v1.0h-1.0zM31.5 62.6h1.0v1.0h-1.0zM43.6 61.4h1.0v1.0h-1.0zM26.4 67.4h1.0v1.0h-1.0zM30.3 62.5h1.0v1.0h-1.0zM30.1 64.7h1.0v1.0h-1.0zM33.4 47.5h1.0v1.0h-1.0zM36.7 62.6h1.0v1.0h-1.0zM28.4 77.7h1.0v1.0h-1.0zM26.6 53.3h1.0v1.0h-1.0zM22.1 56.8h1.0v1.0h-1.0zM26.0 66.0h1.0v1.0h-1.0zM33.9 66.6h1.0v1.0h-1.0zM31.2 63.6h1.0v1.0h-1.0zM25.5 43.4h1.0v1.0h-1.0zM29.0 62.5h1.0v1.0h-1.0zM31.2 47.3h1.0v1.0h-1.0zM33.7 50.6h1.0v1.0h-1.0zM27.8 62.9h1.0v1.0h-1.0zM29.6 55.3h1.0v1.0h-1.0zM39.7 65.0h1.0v1.0h-1.0zM29.2 49.9h1.0v1.0h-1.0zM32.2 52.2h1.0v1.0h-1.0zM29.0 48.4h1.0v1.0h-1.0zM26.6 53.2h1.0v1.0h-1.0zM30.7 48.2h1.0v1.0h-1.0zM31.0 52.1h1.0v1.0h-1.0zM30.6 56.1h1.0v1.0h-1.0zM30.2 45.2h1.0v1.0h-1.0zM26.4 45.7h1.0v1.0h-1.0zM28.0 62.1h1.0v1.0h-1.0zM32.2 58.5h1.0v1.0h-1.0zM34.5 67.2h1.0v1.0h-1.0zM35.8 67.4h1.0v1.0h-1.0zM28.3 54.9h1.0v1.0h-1.0zM36.0 64.0h1.0v1.0h-1.0zM37.3 45.0h1.0v1.0h-1.0zM37.1 78.5h1.0v1.0h-1.0zM38.5 68.8h1.0v1.0h-1.0zM30.2 56.1h1.0v1.0h-1.0zM30.1 47.5h1.0v1.0h-1.0zM35.5 61.4h1.0v1.0h-1.0zM23.6 41.2h1.0v1.0h-1.0zM32.1 51.0h1.0v1.0h-1.0zM28.1 64.7h1.0v1.0h-1.0zM29.0 58.7h1.0v1.0h-1.0zM26.2 66.6h1.0v1.0h-1.0zM30.9 48.7h1.0v1.0h-1.0zM35.8 60.6h1.0v1.0h-1.0zM36.3 53.5h1.0v1.0h-1.0zM30.6 50.4h1.0v1.0h-1.0zM30.0 62.2h1.0v1.0h-1.0zM26.5 49.1h1.0v1.0h-1.0zM33.2 75.1h1.0v1.0h-1.0zM29.7 52.7h1.0v1.0h-1.0zM34.3 75.9h1.0v1.0h-1.0zM40.5 48.2h1.0v1.0h-1.0zM30.8 63.5h1.0v1.0h-1.0zM22.9 47.2h1.0v1.0h-1.0zM26.4 45.9h1.0v1.0h-1.0zM23.1 59.4h1.0v1.0h-1.0zM24.5 64.1h1.0v1.0h-1.0zM38.0 46.5h1.0v1.0h-1.0zM32.2 68.7h1.0v1.0h-1.0zM22.8 50.8h1.0v1.0h-1.0zM34.5 59.2h1.0v1.0h-1.0zM37.8 61.4h1.0v1.0h-1.0zM29.1 63.4h1.0v1.0h-1.0zM27.3 41.8h1.0v1.0h-1.0zM29.2 72.6h1.0v1.0h-1.0zM32.5 63.1h1.0v1.0h-1.0zM34.5 54.2h1.0v1.0h-1.0zM37.4 48.8h1.0v1.0h-1.0zM37.5 42.8h1.0v1.0h-1.0zM37.4 45.7h1.0v1.0h-1.0zM38.4 62.9h1.0v1.0h-1.0zM34.6 54.9h1.0v1.0h-1.0zM22.7 47.8h1.0v1.0h-1.0zM30.3 53.3h1.0v1.0h-1.0zM32.7 72.1h1.0v1.0h-1.0zM28.9 55.0h1.0v1.0h-1.0zM35.9 52.7h1.0v1.0h-1.0zM29.1 70.2h1.0v1.0h-1.0zM26.0 62.2h1.0v1.0h-1.0zM38.8 58.4h1.0v1.0h-1.0zM34.6 52.5h1.0v1.0h-1.0zM32.2 44.0h1.0v1.0h-1.0zM36.0 47.5h1.0v1.0h-1.0zM36.7 53.7h1.0v1.0h-1.0zM32.8 56.0h1.0v1.0h-1.0zM27.4 63.0h1.0v1.0h-1.0zM28.5 60.0h1.0v1.0h-1.0zM25.7 60.0h1.0v1.0h-1.0zM32.1 48.9h1.0v1.0h-1.0zM28.4 53.3h1.0v1.0h-1.0zM24.9 49.4h1.0v1.0h-1.0zM42.0 52.1h1.0v1.0h-1.0zM28.6 55.5h1.0v1.0h-1.0zM24.3 46.8h1.0v1.0h-1.0zM32.3 48.0h1.0v1.0h-1.0zM33.3 57.1h1.0v1.0h-1.0zM27.2 59.0h1.0v1.0h-1.0zM35.3 52.1h1.0v1.0h-1.0zM28.4 62.5h1.0v1.0h-1.0zM26.0 56.0h1.0v1.0h-1.0zM32.0 48.8h1.0v1.0h-1.0zM35.2 58.4h1.0v1.0h-1.0zM27.6 74.9h1.0v1.0h-1.0zM32.8 51.9h1.0v1.0h-1.0zM30.5 68.5h1.0v1.0h-1.0zM46.3 70.4h1.0v1.0h-1.0zM27.2 71.5h1.0v1.0h-1.0zM38.5 50.6h1.0v1.0h-1.0zM30.7 76.1h1.0v1.0h-1.0zM30.3 59.0h1.0v1.0h-1.0zM34.9 55.7h1.0v1.0h-1.0zM35.8 55.9h1.0v1.0h-1.0zM37.8 63.4h1.0v1.0h-1.0zM32.8 58.5h1.0v1.0h-1.0zM27.8 56.4h1.0v1.0h-1.0zM28.1 69.6h1.0v1.0h-1.0zM33.8 51.5h1.0v1.0h-1.0zM34.1 48.6h1.0v1.0h-1.0zM38.5 65.1h1.0v1.0h-1.0zM33.3 64.3h1.0v1.0h-1.0zM36.7 67.8h1.0v1.0h-1.0zM39.2 48.4h1.0v1.0h-1.0zM31.9 67.7h1.0v1.0h-1.0zM23.0 62.3h1.0v1.0h-1.0zM24.6 73.9h1.0v1.0h-1.0zM23.2 46.8h1.0v1.0h-1.0zM39.6 60.0h1.0v1.0h-1.0zM26.4 55.5h1.0v1.0h-1.0zM37.7 43.7h1.0v1.0h-1.0zM34.2 51.6h1.0v1.0h-1.0zM40.3 68.1h1.0v1.0h-1.0zM36.4 53.8h1.0v1.0h-1.0zM30.4 51.5h1.0v1.0h-1.0zM29.9 65.8h1.0v1.0h-1.0zM31.5 66.9h1.0v1.0h-1.0zM31.9 66.9h1.0v1.0h-1.0zM28.1 50.9h1.0v1.0h-1.0zM30.8 57.5h1.0v1.0h-1.0zM39.7 67.3h1.0v1.0h-1.0zM32.4 51.3h1.0v1.0h-1.0zM26.1 65.5h1.0v1.0h-1.0zM32.0 72.1h1.0v1.0h-1.0zM35.5 47.6h1.0v1.0h-1.0zM35.2 44.9h1.0v1.0h-1.0zM22.4 48.9h1.0v1.0h-1.0zM37.0 56.8h1.0v1.0h-1.0zM27.7 63.5h1.0v1.0h-1.0zM34.4 56.7h1.0v1.0h-1.0zM32.0 51.7h1.0v1.0h-1.0zM26.9 49.3h1.0v1.0h-1.0zM32.2 57.6h1.0v1.0h-1.0zM39.4 52.2h1.0v1.0h-1.0zM32.6 82.1h1.0v1.0h-1.0zM32.4 65.4h1.0v1.0h-1.0zM23.4 50.5h1.0v1.0h-1.0zM38.7 49.0h1.0v1.0h-1.0zM40.8 54.1h1.0v1.0h-1.0zM31.2 43.2h1.0v1.0h-1.0zM29.8 51.4h1.0v1.0h-1.0zM22.3 51.4h1.0v1.0h-1.0zM35.8 66.0h1.0v1.0h-1.0zM45.6 54.2h1.0v1.0h-1.0zM34.9 50.9h1.0v1.0h-1.0zM37.8 45.9h1.0v1.0h-1.0zM33.9 47.4h1.0v1.0h-1.0zM25.7 57.4h1.0v1.0h-1.0zM38.2 56.1h1.0v1.0h-1.0zM24.3 68.2h1.0v1.0h-1.0zM29.9 52.3h1.0v1.0h-1.0zM32.5 67.5h1.0v1.0h-1.0zM35.8 60.3h1.0v1.0h-1.0zM33.2 58.0h1.0v1.0h-1.0zM26.9 46.4h1.0v1.0h-1.0zM24.0 64.7h1.0v1.0h-1.0zM31.3 70.6h1.0v1.0h-1.0zM27.2 59.9h1.0v1.0h-1.0zM23.9 64.9h1.0v1.0h-1.0zM24.2 54.3h1.0v1.0h-1.0zM28.4 54.7h1.0v1.0h-1.0zM23.7 66.8h1.0v1.0h-1.0zM22.2 61.1h1.0v1.0h-1.0zM32.0 55.9h1.0v1.0h-1.0zM33.2 55.0h1.0v1.0h-1.0zM41.8 63.0h1.0v1.0h-1.0zM22.9 60.9h1.0v1.0h-1.0zM27.3 50.5h1.0v1.0h-1.0zM35.9 73.4h1.0v1.0h-1.0zM29.8 60.3h1.0v1.0h-1.0zM29.2 58.1h1.0v1.0h-1.0zM40.2 71.3h1.0v1.0h-1.0zM29.2 67.2h1.0v1.0h-1.0zM24.8 57.2h1.0v1.0h-1.0zM23.9 62.8h1.0v1.0h-1.0zM32.8 48.4h1.0v1.0h-1.0zM32.6 52.2h1.0v1.0h-1.0zM25.7 69.0h1.0v1.0h-1.0zM33.9 40.9h1.0v1.0h-1.0zM34.1 64.1h1.0v1.0h-1.0zM27.5 50.5h1.0v1.0h-1.0zM34.4 49.2h1.0v1.0h-1.0zM34.1 56.2h1.0v1.0h-1.0zM29.3 63.5h1.0v1.0h-1.0zM33.2 73.9h1.0v1.0h-1.0zM27.9 61.2h1.0v1.0h-1.0zM29.5 52.6h1.0v1.0h-1.0zM35.1 64.4h1.0v1.0h-1.0zM39.5 59.4h1.0v1.0h-1.0zM45.1 57.1h1.0v1.0h-1.0zM24.9 57.4h1.0v1.0h-1.0zM36.2 59.7h1.0v1.0h-1.0zM37.7 61.6h1.0v1.0h-1.0zM36.3 53.4h1.0v1.0h-1.0zM31.8 51.3h1.0v1.0h-1.0zM24.7 64.7h1.0v1.0h-1.0zM34.4 42.7h1.0v1.0h-1.0zM27.1 52.4h1.0v1.0h-1.0zM34.8 51.8h1.0v1.0h-1.0zM40.8 64.2h1.0v1.0h-1.0zM26.1 43.1h1.0v1.0h-1.0zM38.9 81.4h1.0v1.0h-1.0zM39.4 70.9h1.0v1.0h-1.0zM30.9 72.0h1.0v1.0h-1.0zM24.5 66.2h1.0v1.0h-1.0zM30.0 56.0h1.0v1.0h-1.0zM31.5 65.3h1.0v1.0h-1.0zM25.6 47.9h1.0v1.0h-1.0zM30.1 55.5h1.0v1.0h-1.0zM30.4 67.0h1.0v1.0h-1.0zM41.4 48.0h1.0v1.0h-1.0zM38.0 54.7h1.0v1.0h-1.0zM30.8 59.5h1.0v1.0h-1.0zM37.5 45.9h1.0v1.0h-1.0zM26.8 68.5h1.0v1.0h-1.0zM29.2 61.1h1.0v1.0h-1.0zM35.9 44.4h1.0v1.0h-1.0zM24.3 57.6h1.0v1.0h-1.0zM29.5 51.0h1.0v1.0h-1.0zM23.9 52.1h1.0v1.0h-1.0zM31.6 58.7h1.0v1.0h-1.0zM39.8 51.6h1.0v1.0h-1.0zM26.9 66.7h1.0v1.0h-1.0zM32.2 51.7h1.0v1.0h-1.0zM26.2 66.8h1.0v1.0h-1.0zM24.8 57.6h1.0v1.0h-1.0zM24.3 65.7h1.0v1.0h-1.0zM38.9 53.1h1.0v1.0h-1.0zM43.8 53.5h1.0v1.0h-1.0zM33.6 47.6h1.0v1.0h-1.0zM27.1 63.2h1.0v1.0h-1.0zM34.8 66.4h1.0v1.0h-1.0zM29.2 77.1h1.0v1.0h-1.0zM35.3 69.6h1.0v1.0h-1.0zM32.6 60.2h1.0v1.0h-1.0zM32.5 56.1h1.0v1.0h-1.0zM34.3 61.5h1.0v1.0h-1.0zM27.9 57.8h1.0v1.0h-1.0zM28.8 71.2h1.0v1.0h-1.0zM28.6 50.5h1.0v1.0h-1.0zM23.3 51.8h1.0v1.0h-1.0zM30.2 70.3h1.0v1.0h-1.0zM25.8 60.8h1.0v1.0h-1.0zM31.5 55.9h1.0v1.0h-1.0zM33.4 68.7h1.0v1.0h-1.0zM23.3 54.5h1.0v1.0h-1.0zM26.6 55.5h1.0v1.0h-1.0zM25.9 53.8h1.0v1.0h-1.0zM40.2 65.8h1.0v1.0h-1.0zM35.6 47.1h1.0v1.0h-1.0zM29.1 52.9h1.0v1.0h-1.0zM38.9 51.3h1.0v1.0h-1.0zM22.8 64.5h1.0v1.0h-1.0zM39.1 57.4h1.0v1.0h-1.0zM27.5 58.1h1.0v1.0h-1.0zM45.3 57.2h1.0v1.0h-1.0zM39.5 44.7h1.0v1.0h-1.0zM25.4 60.8h1.0v1.0h-1.0zM31.9 61.3h1.0v1.0h-1.0zM29.8 57.8h1.0v1.0h-1.0zM31.6 76.4h1.0v1.0h-1.0zM23.0 62.7h1.0v1.0h-1.0zM27.3 63.4h1.0v1.0h-1.0zM33.5 59.3h1.0v1.0h-1.0zM32.2 56.3h1.0v1.0h-1.0zM37.5 66.7h1.0v1.0h-1.0zM31.4 67.9h1.0v1.0h-1.0zM43.7 46.3h1.0v1.0h-1.0zM27.1 67.5h1.0v1.0h-1.0zM32.4 62.6h1.0v1.0h-1.0zM24.2 62.2h1.0v1.0h-1.0zM38.2 46.8h1.0v1.0h-1.0zM25.9 47.4h1.0v1.0h-1.0zM33.9 74.4h1.0v1.0h-1.0zM30.7 60.3h1.0v1.0h-1.0zM25.4 45.2h1.0v1.0h-1.0zM29.1 61.1h1.0v1.0h-1.0zM28.2 54.7h1.0v1.0h-1.0zM28.4 41.4h1.0v1.0h-1.0zM34.5 43.6h1.0v1.0h-1.0zM27.9 60.4h1.0v1.0h-1.0zM26.1 57.6h1.0v1.0h-1.0zM32.5 55.8h1.0v1.0h-1.0zM30.5 60.6h1.0v1.0h-1.0zM36.6 63.4h1.0v1.0h-1.0zM35.6 55.3h1.0v1.0h-1.0zM30.8 50.5h1.0v1.0h-1.0zM30.1 46.9h1.0v1.0h-1.0zM26.4 53.1h1.0v1.0h-1.0zM26.1 56.9h1.0v1.0h-1.0zM25.6 55.6h1.0v1.0h-1.0zM28.9 44.9h1.0v1.0h-1.0zM28.7 53.7h1.0v1.0h-1.0zM35.0 76.1h1.0v1.0h-1.0zM28.8 48.5h1.0v1.0h-1.0zM29.9 42.8h1.0v1.0h-1.0z" fill="#000" fill-opacity="0.45"/>
<path d="M30.3 33.0h0.8v0.8h-0.8zM26.9 41.9h0.8v0.8h-0.8zM33.3 37.0h0.8v0.8h-0.8zM29.2 37.1h0.8v0.8h-0.8zM24.7 46.2h0.8v0.8h-0.8zM36.4 38.4h0.8v0.8h-0.8zM36.0 34.5h0.8v0.8h-0.8zM41.5 42.5h0.8v0.8h-0.8zM25.2 41.1h0.8v0.8h-0.8zM40.3 33.9h0.8v0.8h-0.8zM38.0 38.2h0.8v0.8h-0.8zM27.4 42.2h0.8v0.8h-0.8zM31.8 37.2h0.8v0.8h-0.8zM34.8 47.8h0.8v0.8h-0.8zM28.6 45.0h0.8v0.8h-0.8zM24.6 40.6h0.8v0.8h-0.8zM38.8 46.7h0.8v0.8h-0.8zM25.7 33.5h0.8v0.8h-0.8zM32.1 36.4h0.8v0.8h-0.8zM31.0 46.7h0.8v0.8h-0.8zM40.1 40.6h0.8v0.8h-0.8zM33.4 35.6h0.8v0.8h-0.8zM30.8 41.6h0.8v0.8h-0.8zM41.5 44.0h0.8v0.8h-0.8zM29.4 42.1h0.8v0.8h-0.8zM36.7 33.7h0.8v0.8h-0.8zM27.1 33.6h0.8v0.8h-0.8zM37.3 39.1h0.8v0.8h-0.8zM37.1 33.2h0.8v0.8h-0.8zM38.6 34.3h0.8v0.8h-0.8zM32.0 42.6h0.8v0.8h-0.8zM26.8 39.6h0.8v0.8h-0.8zM34.8 34.3h0.8v0.8h-0.8zM40.2 46.1h0.8v0.8h-0.8zM28.5 38.5h0.8v0.8h-0.8zM22.9 46.2h0.8v0.8h-0.8zM26.1 42.1h0.8v0.8h-0.8zM40.7 42.3h0.8v0.8h-0.8zM22.6 39.4h0.8v0.8h-0.8zM23.6 43.1h0.8v0.8h-0.8zM24.4 36.7h0.8v0.8h-0.8zM39.9 36.9h0.8v0.8h-0.8zM30.0 46.1h0.8v0.8h-0.8zM36.0 36.1h0.8v0.8h-0.8zM36.3 38.8h0.8v0.8h-0.8zM31.0 44.2h0.8v0.8h-0.8zM36.8 38.0h0.8v0.8h-0.8zM31.5 38.5h0.8v0.8h-0.8zM33.1 46.6h0.8v0.8h-0.8zM28.5 36.1h0.8v0.8h-0.8z" fill="#000" fill-opacity="0.3"/>
<path d="M31.9 63.4h0.9v0.9h-0.9zM31.3 63.4h0.9v0.9h-0.9zM32.0 63.6h0.9v0.9h-0.9zM31.2 64.3h0.9v0.9h-0.9zM32.3 62.9h0.9v0.9h-0.9zM33.1 64.1h0.9v0.9h-0.9zM28.7 74.4h0.9v0.9h-0.9zM28.8 73.3h0.9v0.9h-0.9zM30.3 72.9h0.9v0.9h-0.9zM28.7 74.3h0.9v0.9h-0.9zM28.0 73.6h0.9v0.9h-0.9zM29.0 75.4h0.9v0.9h-0.9zM34.8 70.0h0.9v0.9h-0.9zM35.9 70.1h0.9v0.9h-0.9zM34.6 70.3h0.9v0.9h-0.9zM35.5 70.3h0.9v0.9h-0.9zM36.2 70.7h0.9v0.9h-0.9zM35.7 70.2h0.9v0.9h-0.9zM30.8 72.4h0.9v0.9h-0.9zM31.7 72.2h0.9v0.9h-0.9zM31.7 71.9h0.9v0.9h-0.9zM32.7 74.0h0.9v0.9h-0.9zM31.3 72.7h0.9v0.9h-0.9zM31.4 73.3h0.9v0.9h-0.9zM23.9 73.6h0.9v0.9h-0.9zM23.4 73.7h0.9v0.9h-0.9zM22.9 74.1h0.9v0.9h-0.9zM23.1 74.0h0.9v0.9h-0.9zM23.7 74.3h0.9v0.9h-0.9zM23.6 74.3h0.9v0.9h-0.9zM36.5 73.8h0.9v0.9h-0.9zM37.0 73.5h0.9v0.9h-0.9zM37.2 74.0h0.9v0.9h-0.9zM35.7 73.6h0.9v0.9h-0.9zM36.1 74.2h0.9v0.9h-0.9zM35.8 72.7h0.9v0.9h-0.9zM34.3 83.3h0.9v0.9h-0.9zM34.6 82.2h0.9v0.9h-0.9zM35.1 80.9h0.9v0.9h-0.9zM35.3 82.6h0.9v0.9h-0.9zM35.4 82.8h0.9v0.9h-0.9zM35.3 82.2h0.9v0.9h-0.9zM34.6 82.6h0.9v0.9h-0.9zM36.2 82.6h0.9v0.9h-0.9zM35.0 81.9h0.9v0.9h-0.9zM34.4 83.4h0.9v0.9h-0.9zM34.1 81.7h0.9v0.9h-0.9zM34.8 82.1h0.9v0.9h-0.9zM38.9 69.3h0.9v0.9h-0.9zM37.8 71.4h0.9v0.9h-0.9zM36.8 70.5h0.9v0.9h-0.9zM37.9 72.1h0.9v0.9h-0.9zM36.9 69.8h0.9v0.9h-0.9zM38.2 72.0h0.9v0.9h-0.9zM37.9 68.2h0.9v0.9h-0.9zM39.2 69.6h0.9v0.9h-0.9zM38.9 69.7h0.9v0.9h-0.9zM37.9 69.4h0.9v0.9h-0.9zM39.2 70.8h0.9v0.9h-0.9zM36.7 69.1h0.9v0.9h-0.9zM32.1 76.8h0.9v0.9h-0.9zM29.9 77.1h0.9v0.9h-0.9zM30.8 77.0h0.9v0.9h-0.9zM30.5 76.9h0.9v0.9h-0.9zM30.5 77.3h0.9v0.9h-0.9zM30.3 76.9h0.9v0.9h-0.9zM22.4 67.9h0.9v0.9h-0.9zM22.6 68.3h0.9v0.9h-0.9zM22.9 68.3h0.9v0.9h-0.9zM23.4 68.9h0.9v0.9h-0.9zM22.1 67.7h0.9v0.9h-0.9zM22.6 72.4h0.9v0.9h-0.9zM22.5 72.6h0.9v0.9h-0.9zM40.1 77.8h0.9v0.9h-0.9zM39.4 76.9h0.9v0.9h-0.9zM39.1 77.1h0.9v0.9h-0.9zM40.1 78.4h0.9v0.9h-0.9zM40.4 78.6h0.9v0.9h-0.9zM39.3 78.6h0.9v0.9h-0.9zM35.3 64.5h0.9v0.9h-0.9zM35.8 63.4h0.9v0.9h-0.9zM35.6 64.2h0.9v0.9h-0.9zM35.4 64.7h0.9v0.9h-0.9zM36.8 63.9h0.9v0.9h-0.9zM35.4 62.5h0.9v0.9h-0.9zM31.6 79.1h0.9v0.9h-0.9zM30.2 79.6h0.9v0.9h-0.9zM32.1 78.9h0.9v0.9h-0.9zM31.4 78.8h0.9v0.9h-0.9zM32.2 78.4h0.9v0.9h-0.9zM31.4 80.8h0.9v0.9h-0.9zM28.2 79.0h0.9v0.9h-0.9zM28.1 77.9h0.9v0.9h-0.9zM28.2 79.0h0.9v0.9h-0.9zM27.5 78.9h0.9v0.9h-0.9zM29.0 79.4h0.9v0.9h-0.9zM27.1 78.0h0.9v0.9h-0.9zM30.1 72.5h0.9v0.9h-0.9zM31.6 72.2h0.9v0.9h-0.9zM30.6 70.9h0.9v0.9h-0.9zM31.3 71.8h0.9v0.9h-0.9zM30.6 71.8h0.9v0.9h-0.9zM31.7 71.9h0.9v0.9h-0.9zM30.4 67.5h0.9v0.9h-0.9zM31.0 69.1h0.9v0.9h-0.9zM31.0 68.7h0.9v0.9h-0.9zM30.7 69.5h0.9v0.9h-0.9zM31.1 69.0h0.9v0.9h-0.9zM30.5 68.5h0.9v0.9h-0.9zM28.9 74.1h0.9v0.9h-0.9zM27.9 74.6h0.9v0.9h-0.9zM29.7 74.9h0.9v0.9h-0.9zM29.8 74.7h0.9v0.9h-0.9zM28.6 73.8h0.9v0.9h-0.9zM28.4 75.8h0.9v0.9h-0.9zM26.7 70.4h0.9v0.9h-0.9zM26.9 69.9h0.9v0.9h-0.9zM26.3 70.0h0.9v0.9h-0.9zM26.9 70.2h0.9v0.9h-0.9zM26.8 70.0h0.9v0.9h-0.9zM25.9 69.7h0.9v0.9h-0.9zM44.4 81.1h0.9v0.9h-0.9zM43.6 80.3h0.9v0.9h-0.9zM46.7 80.2h0.9v0.9h-0.9zM44.3 80.4h0.9v0.9h-0.9zM46.0 80.3h0.9v0.9h-0.9zM45.5 80.5h0.9v0.9h-0.9zM32.2 78.0h0.9v0.9h-0.9zM32.5 75.4h0.9v0.9h-0.9zM32.1 76.1h0.9v0.9h-0.9zM32.8 76.4h0.9v0.9h-0.9zM32.6 74.8h0.9v0.9h-0.9zM32.9 75.6h0.9v0.9h-0.9zM26.9 69.1h0.9v0.9h-0.9zM26.7 69.6h0.9v0.9h-0.9zM27.0 69.1h0.9v0.9h-0.9zM27.1 70.2h0.9v0.9h-0.9zM26.3 69.7h0.9v0.9h-0.9zM26.5 70.8h0.9v0.9h-0.9zM23.1 79.7h0.9v0.9h-0.9zM22.6 79.6h0.9v0.9h-0.9zM23.9 80.8h0.9v0.9h-0.9zM23.3 79.2h0.9v0.9h-0.9zM25.5 76.9h0.9v0.9h-0.9zM26.1 76.0h0.9v0.9h-0.9zM26.5 75.3h0.9v0.9h-0.9zM26.8 76.2h0.9v0.9h-0.9zM26.6 75.7h0.9v0.9h-0.9zM26.6 75.7h0.9v0.9h-0.9zM36.3 67.4h0.9v0.9h-0.9zM36.3 67.0h0.9v0.9h-0.9zM36.1 64.7h0.9v0.9h-0.9zM36.3 66.4h0.9v0.9h-0.9zM35.7 66.4h0.9v0.9h-0.9zM34.7 66.3h0.9v0.9h-0.9zM36.4 73.3h0.9v0.9h-0.9zM35.5 71.6h0.9v0.9h-0.9zM36.9 71.7h0.9v0.9h-0.9zM37.4 72.3h0.9v0.9h-0.9zM35.3 73.0h0.9v0.9h-0.9zM37.1 71.3h0.9v0.9h-0.9zM30.7 73.6h0.9v0.9h-0.9zM30.6 73.5h0.9v0.9h-0.9zM28.5 74.1h0.9v0.9h-0.9zM30.2 75.3h0.9v0.9h-0.9zM30.8 74.3h0.9v0.9h-0.9zM29.4 73.4h0.9v0.9h-0.9zM31.1 82.3h0.9v0.9h-0.9zM31.1 81.1h0.9v0.9h-0.9zM31.5 82.9h0.9v0.9h-0.9zM33.1 83.4h0.9v0.9h-0.9zM31.0 83.3h0.9v0.9h-0.9zM30.5 82.5h0.9v0.9h-0.9zM27.7 71.4h0.9v0.9h-0.9zM29.4 69.6h0.9v0.9h-0.9zM29.0 71.1h0.9v0.9h-0.9zM29.4 70.7h0.9v0.9h-0.9zM28.4 70.0h0.9v0.9h-0.9zM29.1 71.1h0.9v0.9h-0.9zM23.2 72.2h0.9v0.9h-0.9zM24.6 72.3h0.9v0.9h-0.9zM24.6 73.1h0.9v0.9h-0.9zM24.4 74.2h0.9v0.9h-0.9zM24.3 73.5h0.9v0.9h-0.9zM23.2 72.5h0.9v0.9h-0.9zM40.2 83.5h0.9v0.9h-0.9zM39.4 82.8h0.9v0.9h-0.9zM40.2 82.8h0.9v0.9h-0.9zM33.8 71.5h0.9v0.9h-0.9zM34.2 71.8h0.9v0.9h-0.9zM34.0 71.4h0.9v0.9h-0.9zM33.1 73.3h0.9v0.9h-0.9zM32.9 72.6h0.9v0.9h-0.9zM33.1 70.9h0.9v0.9h-0.9zM47.3 80.8h0.9v0.9h-0.9zM46.3 80.9h0.9v0.9h-0.9zM46.5 79.8h0.9v0.9h-0.9zM47.1 80.1h0.9v0.9h-0.9zM48.7 79.5h0.9v0.9h-0.9zM47.6 81.2h0.9v0.9h-0.9zM24.7 64.7h0.9v0.9h-0.9zM26.5 65.6h0.9v0.9h-0.9zM26.4 66.7h0.9v0.9h-0.9zM25.8 65.2h0.9v0.9h-0.9zM24.2 66.1h0.9v0.9h-0.9zM25.4 66.2h0.9v0.9h-0.9zM30.3 70.9h0.9v0.9h-0.9zM31.3 72.6h0.9v0.9h-0.9zM30.7 71.0h0.9v0.9h-0.9zM29.8 71.5h0.9v0.9h-0.9zM29.8 71.1h0.9v0.9h-0.9zM30.4 72.0h0.9v0.9h-0.9zM37.0 67.3h0.9v0.9h-0.9zM37.6 67.8h0.9v0.9h-0.9zM34.8 67.2h0.9v0.9h-0.9zM36.7 68.4h0.9v0.9h-0.9zM36.5 67.5h0.9v0.9h-0.9zM36.3 68.1h0.9v0.9h-0.9zM29.1 81.3h0.9v0.9h-0.9zM28.9 82.1h0.9v0.9h-0.9zM29.0 80.5h0.9v0.9h-0.9zM29.8 81.2h0.9v0.9h-0.9zM29.7 81.9h0.9v0.9h-0.9zM30.2 82.4h0.9v0.9h-0.9zM22.3 76.0h0.9v0.9h-0.9zM23.1 75.1h0.9v0.9h-0.9zM25.3 68.7h0.9v0.9h-0.9zM23.7 69.1h0.9v0.9h-0.9zM24.5 68.0h0.9v0.9h-0.9zM26.0 69.0h0.9v0.9h-0.9zM24.6 67.1h0.9v0.9h-0.9zM24.9 68.7h0.9v0.9h-0.9zM31.6 65.0h0.9v0.9h-0.9zM31.1 65.0h0.9v0.9h-0.9zM31.8 66.4h0.9v0.9h-0.9zM32.4 65.3h0.9v0.9h-0.9zM31.8 66.2h0.9v0.9h-0.9zM31.3 65.7h0.9v0.9h-0.9zM34.7 72.6h0.9v0.9h-0.9zM33.8 72.1h0.9v0.9h-0.9zM33.3 71.2h0.9v0.9h-0.9zM33.2 73.3h0.9v0.9h-0.9zM34.7 73.3h0.9v0.9h-0.9zM33.7 72.5h0.9v0.9h-0.9zM30.0 65.8h0.9v0.9h-0.9zM30.8 65.4h0.9v0.9h-0.9zM31.0 65.2h0.9v0.9h-0.9zM29.1 65.2h0.9v0.9h-0.9zM29.2 65.0h0.9v0.9h-0.9zM31.2 65.8h0.9v0.9h-0.9zM37.7 74.5h0.9v0.9h-0.9zM38.4 73.4h0.9v0.9h-0.9zM38.5 74.0h0.9v0.9h-0.9zM37.5 74.0h0.9v0.9h-0.9zM36.5 73.2h0.9v0.9h-0.9zM37.4 74.1h0.9v0.9h-0.9zM37.2 78.5h0.9v0.9h-0.9zM38.1 79.6h0.9v0.9h-0.9zM38.0 79.5h0.9v0.9h-0.9zM37.2 78.4h0.9v0.9h-0.9zM37.7 78.4h0.9v0.9h-0.9zM37.1 79.7h0.9v0.9h-0.9zM33.0 69.5h0.9v0.9h-0.9zM33.4 71.5h0.9v0.9h-0.9zM33.2 71.1h0.9v0.9h-0.9zM32.8 69.9h0.9v0.9h-0.9zM32.6 70.1h0.9v0.9h-0.9zM34.4 69.4h0.9v0.9h-0.9zM32.3 66.6h0.9v0.9h-0.9zM31.0 67.9h0.9v0.9h-0.9zM31.6 67.5h0.9v0.9h-0.9zM30.0 67.6h0.9v0.9h-0.9zM30.5 69.1h0.9v0.9h-0.9zM31.0 67.5h0.9v0.9h-0.9zM28.6 70.9h0.9v0.9h-0.9zM28.5 71.9h0.9v0.9h-0.9zM29.2 71.6h0.9v0.9h-0.9zM28.9 70.9h0.9v0.9h-0.9zM30.3 70.6h0.9v0.9h-0.9zM28.1 71.5h0.9v0.9h-0.9zM33.8 67.0h0.9v0.9h-0.9zM35.2 66.8h0.9v0.9h-0.9zM35.2 66.8h0.9v0.9h-0.9zM35.6 68.3h0.9v0.9h-0.9zM34.3 67.2h0.9v0.9h-0.9zM34.0 67.5h0.9v0.9h-0.9zM37.8 79.9h0.9v0.9h-0.9zM37.6 80.0h0.9v0.9h-0.9zM36.4 79.6h0.9v0.9h-0.9zM38.5 80.9h0.9v0.9h-0.9zM37.1 80.4h0.9v0.9h-0.9zM37.7 79.4h0.9v0.9h-0.9zM31.4 67.5h0.9v0.9h-0.9zM31.1 65.9h0.9v0.9h-0.9zM31.9 65.4h0.9v0.9h-0.9zM31.4 66.6h0.9v0.9h-0.9zM31.5 66.2h0.9v0.9h-0.9zM31.1 66.1h0.9v0.9h-0.9zM34.0 79.8h0.9v0.9h-0.9zM34.4 78.6h0.9v0.9h-0.9zM32.2 79.3h0.9v0.9h-0.9zM34.5 78.2h0.9v0.9h-0.9zM32.5 78.0h0.9v0.9h-0.9zM34.6 78.1h0.9v0.9h-0.9zM28.6 70.8h0.9v0.9h-0.9zM29.7 70.7h0.9v0.9h-0.9zM28.8 70.3h0.9v0.9h-0.9zM30.0 71.4h0.9v0.9h-0.9zM28.8 69.7h0.9v0.9h-0.9zM28.3 71.1h0.9v0.9h-0.9zM22.3 78.9h0.9v0.9h-0.9zM23.5 77.7h0.9v0.9h-0.9zM24.4 78.9h0.9v0.9h-0.9zM23.6 79.8h0.9v0.9h-0.9zM25.2 80.4h0.9v0.9h-0.9zM24.5 80.2h0.9v0.9h-0.9zM23.8 79.5h0.9v0.9h-0.9zM24.0 79.5h0.9v0.9h-0.9zM36.5 67.4h0.9v0.9h-0.9zM35.3 67.6h0.9v0.9h-0.9zM35.6 66.0h0.9v0.9h-0.9zM35.9 65.7h0.9v0.9h-0.9zM36.0 66.9h0.9v0.9h-0.9zM35.8 67.1h0.9v0.9h-0.9zM33.7 79.1h0.9v0.9h-0.9zM32.9 79.2h0.9v0.9h-0.9zM33.3 78.8h0.9v0.9h-0.9zM33.8 79.3h0.9v0.9h-0.9zM32.8 78.0h0.9v0.9h-0.9zM33.7 79.5h0.9v0.9h-0.9zM41.6 83.5h0.9v0.9h-0.9zM42.2 83.3h0.9v0.9h-0.9zM41.3 82.2h0.9v0.9h-0.9zM40.7 82.6h0.9v0.9h-0.9zM41.5 83.1h0.9v0.9h-0.9zM41.3 82.8h0.9v0.9h-0.9zM31.8 75.5h0.9v0.9h-0.9zM31.6 75.6h0.9v0.9h-0.9zM31.0 74.6h0.9v0.9h-0.9zM31.7 75.6h0.9v0.9h-0.9zM31.2 75.1h0.9v0.9h-0.9zM33.0 74.8h0.9v0.9h-0.9zM36.5 77.1h0.9v0.9h-0.9zM35.8 77.0h0.9v0.9h-0.9zM37.9 77.6h0.9v0.9h-0.9zM37.1 77.3h0.9v0.9h-0.9zM36.7 77.6h0.9v0.9h-0.9zM36.5 76.6h0.9v0.9h-0.9zM39.7 71.1h0.9v0.9h-0.9zM39.8 70.9h0.9v0.9h-0.9zM38.2 71.3h0.9v0.9h-0.9zM41.2 71.4h0.9v0.9h-0.9zM39.4 69.9h0.9v0.9h-0.9zM39.8 69.8h0.9v0.9h-0.9zM38.0 67.1h0.9v0.9h-0.9zM38.1 68.4h0.9v0.9h-0.9zM36.0 67.7h0.9v0.9h-0.9zM37.0 66.5h0.9v0.9h-0.9zM37.0 67.3h0.9v0.9h-0.9zM38.2 66.4h0.9v0.9h-0.9zM27.8 80.3h0.9v0.9h-0.9zM27.5 79.3h0.9v0.9h-0.9zM27.0 78.1h0.9v0.9h-0.9zM27.4 79.2h0.9v0.9h-0.9zM27.6 80.7h0.9v0.9h-0.9zM27.6 79.2h0.9v0.9h-0.9zM30.9 79.5h0.9v0.9h-0.9zM29.0 80.1h0.9v0.9h-0.9zM29.3 80.9h0.9v0.9h-0.9zM29.6 81.6h0.9v0.9h-0.9zM30.9 80.9h0.9v0.9h-0.9zM29.5 80.8h0.9v0.9h-0.9zM32.4 67.4h0.9v0.9h-0.9zM32.1 68.6h0.9v0.9h-0.9zM32.0 69.2h0.9v0.9h-0.9zM32.7 67.5h0.9v0.9h-0.9zM31.9 67.5h0.9v0.9h-0.9zM32.2 67.5h0.9v0.9h-0.9zM25.2 66.5h0.9v0.9h-0.9zM25.3 66.2h0.9v0.9h-0.9zM23.6 67.5h0.9v0.9h-0.9zM24.5 67.2h0.9v0.9h-0.9zM24.9 66.7h0.9v0.9h-0.9zM25.9 66.5h0.9v0.9h-0.9zM35.1 70.0h0.9v0.9h-0.9zM34.7 70.9h0.9v0.9h-0.9zM34.0 71.1h0.9v0.9h-0.9zM34.3 72.2h0.9v0.9h-0.9zM32.8 71.1h0.9v0.9h-0.9zM33.6 71.9h0.9v0.9h-0.9zM37.4 76.8h0.9v0.9h-0.9zM37.4 77.0h0.9v0.9h-0.9zM38.4 76.2h0.9v0.9h-0.9zM37.7 75.5h0.9v0.9h-0.9zM37.9 77.1h0.9v0.9h-0.9zM37.3 77.3h0.9v0.9h-0.9zM26.4 70.0h0.9v0.9h-0.9zM26.9 71.0h0.9v0.9h-0.9zM27.9 71.2h0.9v0.9h-0.9zM27.8 71.8h0.9v0.9h-0.9zM27.5 70.4h0.9v0.9h-0.9zM27.0 72.8h0.9v0.9h-0.9zM42.2 83.2h0.9v0.9h-0.9zM43.2 83.3h0.9v0.9h-0.9zM30.1 79.6h0.9v0.9h-0.9zM28.1 80.1h0.9v0.9h-0.9zM30.4 80.3h0.9v0.9h-0.9zM29.3 81.5h0.9v0.9h-0.9zM28.4 80.5h0.9v0.9h-0.9zM28.7 79.9h0.9v0.9h-0.9zM29.7 83.4h0.9v0.9h-0.9zM29.0 81.9h0.9v0.9h-0.9zM28.6 82.7h0.9v0.9h-0.9zM29.4 82.6h0.9v0.9h-0.9zM28.9 82.1h0.9v0.9h-0.9zM30.4 82.2h0.9v0.9h-0.9zM29.9 76.4h0.9v0.9h-0.9zM29.2 74.9h0.9v0.9h-0.9zM30.1 76.1h0.9v0.9h-0.9zM30.1 74.6h0.9v0.9h-0.9zM28.3 74.5h0.9v0.9h-0.9zM28.8 76.7h0.9v0.9h-0.9zM26.8 79.1h0.9v0.9h-0.9zM26.5 79.6h0.9v0.9h-0.9zM26.2 79.4h0.9v0.9h-0.9zM26.5 77.6h0.9v0.9h-0.9zM26.1 80.1h0.9v0.9h-0.9zM26.1 79.0h0.9v0.9h-0.9zM33.3 82.7h0.9v0.9h-0.9zM34.5 82.8h0.9v0.9h-0.9zM33.0 80.8h0.9v0.9h-0.9zM33.3 81.6h0.9v0.9h-0.9zM32.4 83.6h0.9v0.9h-0.9zM34.2 81.7h0.9v0.9h-0.9zM31.7 65.0h0.9v0.9h-0.9zM30.6 65.2h0.9v0.9h-0.9zM30.0 63.9h0.9v0.9h-0.9zM30.1 63.9h0.9v0.9h-0.9zM31.7 63.8h0.9v0.9h-0.9zM30.3 64.0h0.9v0.9h-0.9zM41.9 75.3h0.9v0.9h-0.9zM42.4 75.0h0.9v0.9h-0.9zM40.9 75.1h0.9v0.9h-0.9zM41.8 74.8h0.9v0.9h-0.9zM42.0 76.8h0.9v0.9h-0.9zM41.4 75.5h0.9v0.9h-0.9zM35.9 67.3h0.9v0.9h-0.9zM34.3 67.0h0.9v0.9h-0.9zM35.2 68.1h0.9v0.9h-0.9zM34.8 67.8h0.9v0.9h-0.9zM35.8 68.3h0.9v0.9h-0.9zM34.0 67.7h0.9v0.9h-0.9zM34.6 80.4h0.9v0.9h-0.9zM34.3 79.4h0.9v0.9h-0.9zM34.2 78.6h0.9v0.9h-0.9zM34.5 79.5h0.9v0.9h-0.9zM34.8 79.2h0.9v0.9h-0.9zM34.2 79.2h0.9v0.9h-0.9zM28.8 69.1h0.9v0.9h-0.9zM29.2 68.9h0.9v0.9h-0.9zM28.8 68.7h0.9v0.9h-0.9zM28.4 68.3h0.9v0.9h-0.9zM29.2 69.0h0.9v0.9h-0.9zM29.7 68.5h0.9v0.9h-0.9zM22.4 78.9h0.9v0.9h-0.9zM22.2 79.3h0.9v0.9h-0.9zM22.4 78.5h0.9v0.9h-0.9zM29.5 70.6h0.9v0.9h-0.9zM30.3 71.4h0.9v0.9h-0.9zM30.1 70.5h0.9v0.9h-0.9zM30.9 70.3h0.9v0.9h-0.9zM30.3 71.8h0.9v0.9h-0.9zM31.4 71.1h0.9v0.9h-0.9zM25.6 76.3h0.9v0.9h-0.9zM25.8 77.0h0.9v0.9h-0.9zM25.6 76.6h0.9v0.9h-0.9zM25.4 76.9h0.9v0.9h-0.9zM25.7 78.0h0.9v0.9h-0.9zM25.7 75.8h0.9v0.9h-0.9zM36.5 76.4h0.9v0.9h-0.9zM36.6 77.9h0.9v0.9h-0.9zM37.4 77.1h0.9v0.9h-0.9zM37.3 77.0h0.9v0.9h-0.9zM36.2 76.6h0.9v0.9h-0.9zM36.6 78.5h0.9v0.9h-0.9zM29.8 83.0h0.9v0.9h-0.9zM31.7 82.0h0.9v0.9h-0.9zM30.7 81.7h0.9v0.9h-0.9zM30.8 82.6h0.9v0.9h-0.9zM30.8 82.8h0.9v0.9h-0.9zM31.6 82.4h0.9v0.9h-0.9zM42.0 81.4h0.9v0.9h-0.9zM42.0 80.6h0.9v0.9h-0.9zM42.1 81.6h0.9v0.9h-0.9zM41.2 82.9h0.9v0.9h-0.9zM41.1 80.8h0.9v0.9h-0.9zM42.0 80.1h0.9v0.9h-0.9zM35.2 71.7h0.9v0.9h-0.9zM35.1 72.6h0.9v0.9h-0.9zM36.0 73.5h0.9v0.9h-0.9zM36.3 73.5h0.9v0.9h-0.9zM36.2 72.4h0.9v0.9h-0.9zM36.5 72.4h0.9v0.9h-0.9zM36.0 78.8h0.9v0.9h-0.9zM36.9 77.9h0.9v0.9h-0.9zM36.9 78.4h0.9v0.9h-0.9zM35.4 77.7h0.9v0.9h-0.9zM35.6 77.8h0.9v0.9h-0.9zM35.9 78.7h0.9v0.9h-0.9zM32.8 67.0h0.9v0.9h-0.9zM32.4 66.8h0.9v0.9h-0.9zM32.5 68.0h0.9v0.9h-0.9zM32.6 66.3h0.9v0.9h-0.9zM32.2 68.0h0.9v0.9h-0.9zM32.7 68.4h0.9v0.9h-0.9zM31.4 66.3h0.9v0.9h-0.9zM31.9 66.1h0.9v0.9h-0.9zM32.6 66.4h0.9v0.9h-0.9zM31.9 66.1h0.9v0.9h-0.9zM31.5 64.9h0.9v0.9h-0.9zM32.7 65.9h0.9v0.9h-0.9zM34.1 77.6h0.9v0.9h-0.9zM35.2 79.3h0.9v0.9h-0.9zM35.9 78.8h0.9v0.9h-0.9zM34.0 78.2h0.9v0.9h-0.9zM35.5 78.5h0.9v0.9h-0.9zM35.5 78.1h0.9v0.9h-0.9zM38.2 83.1h0.9v0.9h-0.9zM36.9 81.4h0.9v0.9h-0.9zM38.4 81.7h0.9v0.9h-0.9zM37.8 83.4h0.9v0.9h-0.9zM36.3 82.3h0.9v0.9h-0.9zM36.7 82.5h0.9v0.9h-0.9zM26.6 80.3h0.9v0.9h-0.9zM26.8 78.9h0.9v0.9h-0.9zM27.1 78.7h0.9v0.9h-0.9zM26.1 80.5h0.9v0.9h-0.9zM25.8 78.5h0.9v0.9h-0.9zM26.4 78.2h0.9v0.9h-0.9zM32.7 75.0h0.9v0.9h-0.9zM33.6 73.9h0.9v0.9h-0.9zM33.9 73.6h0.9v0.9h-0.9zM33.4 74.4h0.9v0.9h-0.9zM35.8 74.8h0.9v0.9h-0.9zM34.7 73.2h0.9v0.9h-0.9zM48.0 75.7h0.9v0.9h-0.9zM48.5 76.4h0.9v0.9h-0.9zM48.0 76.5h0.9v0.9h-0.9zM47.6 75.5h0.9v0.9h-0.9zM48.4 75.6h0.9v0.9h-0.9zM47.2 76.3h0.9v0.9h-0.9zM29.9 78.7h0.9v0.9h-0.9zM31.1 78.7h0.9v0.9h-0.9zM30.5 78.6h0.9v0.9h-0.9zM31.0 77.3h0.9v0.9h-0.9zM30.6 77.9h0.9v0.9h-0.9zM29.5 78.6h0.9v0.9h-0.9zM29.0 75.8h0.9v0.9h-0.9zM30.1 73.7h0.9v0.9h-0.9zM29.2 76.7h0.9v0.9h-0.9zM29.9 76.4h0.9v0.9h-0.9zM29.4 74.3h0.9v0.9h-0.9zM28.5 75.8h0.9v0.9h-0.9zM27.1 70.7h0.9v0.9h-0.9zM26.3 71.4h0.9v0.9h-0.9zM25.2 71.0h0.9v0.9h-0.9zM27.6 72.8h0.9v0.9h-0.9zM26.4 72.5h0.9v0.9h-0.9zM26.1 70.7h0.9v0.9h-0.9zM39.4 70.9h0.9v0.9h-0.9zM38.8 71.6h0.9v0.9h-0.9zM39.4 71.4h0.9v0.9h-0.9zM39.9 71.2h0.9v0.9h-0.9zM38.3 71.0h0.9v0.9h-0.9zM36.9 70.8h0.9v0.9h-0.9zM32.1 82.2h0.9v0.9h-0.9zM30.8 82.3h0.9v0.9h-0.9zM29.9 81.8h0.9v0.9h-0.9zM31.7 82.5h0.9v0.9h-0.9zM30.8 82.7h0.9v0.9h-0.9zM32.7 81.7h0.9v0.9h-0.9zM33.4 78.9h0.9v0.9h-0.9zM31.5 80.4h0.9v0.9h-0.9zM32.9 80.1h0.9v0.9h-0.9zM32.5 79.7h0.9v0.9h-0.9zM33.5 81.2h0.9v0.9h-0.9zM32.8 78.8h0.9v0.9h-0.9zM43.8 80.2h0.9v0.9h-0.9zM43.4 80.0h0.9v0.9h-0.9zM44.6 79.9h0.9v0.9h-0.9zM43.3 78.5h0.9v0.9h-0.9zM42.5 79.3h0.9v0.9h-0.9zM42.9 80.1h0.9v0.9h-0.9zM46.7 81.9h0.9v0.9h-0.9zM46.5 80.3h0.9v0.9h-0.9zM47.4 79.8h0.9v0.9h-0.9zM47.7 81.1h0.9v0.9h-0.9zM47.1 82.0h0.9v0.9h-0.9zM47.3 80.8h0.9v0.9h-0.9zM24.5 82.5h0.9v0.9h-0.9zM24.7 83.5h0.9v0.9h-0.9zM23.5 82.9h0.9v0.9h-0.9zM24.8 83.3h0.9v0.9h-0.9zM35.3 73.8h0.9v0.9h-0.9zM35.1 73.6h0.9v0.9h-0.9zM35.5 74.6h0.9v0.9h-0.9zM35.0 75.3h0.9v0.9h-0.9zM33.9 73.8h0.9v0.9h-0.9zM36.2 73.7h0.9v0.9h-0.9zM32.4 72.5h0.9v0.9h-0.9zM33.9 70.7h0.9v0.9h-0.9zM34.1 70.8h0.9v0.9h-0.9zM32.6 71.4h0.9v0.9h-0.9zM33.2 70.7h0.9v0.9h-0.9zM33.3 70.8h0.9v0.9h-0.9z" fill="#000" fill-opacity="0.35"/>
<path d="M36.9 47.3h0.9v0.9h-0.9zM36.9 45.1h0.9v0.9h-0.9zM41.7 54.5h0.9v0.9h-0.9zM37.7 76.6h0.9v0.9h-0.9zM37.4 71.3h0.9v0.9h-0.9zM42.6 63.6h0.9v0.9h-0.9zM37.4 61.0h0.9v0.9h-0.9zM41.8 55.3h0.9v0.9h-0.9zM38.1 74.9h0.9v0.9h-0.9zM40.0 64.0h0.9v0.9h-0.9zM38.2 47.7h0.9v0.9h-0.9zM38.4 69.5h0.9v0.9h-0.9zM42.4 47.8h0.9v0.9h-0.9zM41.1 48.9h0.9v0.9h-0.9zM37.0 57.0h0.9v0.9h-0.9zM38.1 83.1h0.9v0.9h-0.9zM36.5 82.9h0.9v0.9h-0.9zM40.5 52.2h0.9v0.9h-0.9zM41.1 73.1h0.9v0.9h-0.9zM41.2 68.9h0.9v0.9h-0.9zM41.4 60.5h0.9v0.9h-0.9zM38.8 75.6h0.9v0.9h-0.9zM37.2 69.8h0.9v0.9h-0.9zM36.0 53.8h0.9v0.9h-0.9zM39.1 64.1h0.9v0.9h-0.9zM42.5 72.7h0.9v0.9h-0.9zM39.1 69.2h0.9v0.9h-0.9zM40.3 66.2h0.9v0.9h-0.9zM42.4 73.8h0.9v0.9h-0.9zM42.0 50.3h0.9v0.9h-0.9zM41.2 46.7h0.9v0.9h-0.9zM40.1 46.3h0.9v0.9h-0.9zM37.6 69.2h0.9v0.9h-0.9zM41.2 61.9h0.9v0.9h-0.9zM38.9 77.6h0.9v0.9h-0.9zM40.9 82.9h0.9v0.9h-0.9zM37.6 49.4h0.9v0.9h-0.9zM42.6 59.8h0.9v0.9h-0.9zM37.1 61.4h0.9v0.9h-0.9zM41.5 66.3h0.9v0.9h-0.9zM42.2 80.5h0.9v0.9h-0.9zM37.1 68.4h0.9v0.9h-0.9zM42.1 56.9h0.9v0.9h-0.9zM40.5 70.9h0.9v0.9h-0.9zM40.2 57.8h0.9v0.9h-0.9zM37.8 66.7h0.9v0.9h-0.9zM38.3 48.8h0.9v0.9h-0.9zM37.6 67.0h0.9v0.9h-0.9zM39.1 63.7h0.9v0.9h-0.9zM40.5 70.2h0.9v0.9h-0.9zM41.1 67.1h0.9v0.9h-0.9zM40.9 67.3h0.9v0.9h-0.9zM38.4 73.8h0.9v0.9h-0.9zM38.4 50.2h0.9v0.9h-0.9zM41.3 74.3h0.9v0.9h-0.9zM42.8 69.3h0.9v0.9h-0.9zM37.6 71.9h0.9v0.9h-0.9zM38.9 60.6h0.9v0.9h-0.9zM37.9 48.3h0.9v0.9h-0.9zM42.8 81.0h0.9v0.9h-0.9zM36.1 77.3h0.9v0.9h-0.9zM42.2 83.1h0.9v0.9h-0.9zM41.4 63.0h0.9v0.9h-0.9zM38.3 79.5h0.9v0.9h-0.9zM40.8 79.0h0.9v0.9h-0.9zM38.6 66.4h0.9v0.9h-0.9zM40.5 80.1h0.9v0.9h-0.9zM39.0 76.8h0.9v0.9h-0.9zM42.4 49.0h0.9v0.9h-0.9zM39.2 50.2h0.9v0.9h-0.9zM41.7 60.9h0.9v0.9h-0.9zM40.0 65.8h0.9v0.9h-0.9zM38.6 70.5h0.9v0.9h-0.9zM42.8 67.0h0.9v0.9h-0.9zM37.4 79.2h0.9v0.9h-0.9zM42.4 76.2h0.9v0.9h-0.9zM42.9 49.0h0.9v0.9h-0.9zM41.9 58.2h0.9v0.9h-0.9zM40.3 79.6h0.9v0.9h-0.9zM40.4 74.5h0.9v0.9h-0.9zM42.5 45.6h0.9v0.9h-0.9zM39.0 69.4h0.9v0.9h-0.9zM41.8 49.9h0.9v0.9h-0.9zM41.4 64.6h0.9v0.9h-0.9zM39.1 47.9h0.9v0.9h-0.9zM40.6 77.1h0.9v0.9h-0.9zM36.6 63.9h0.9v0.9h-0.9zM36.5 83.2h0.9v0.9h-0.9zM36.8 78.5h0.9v0.9h-0.9zM41.1 47.5h0.9v0.9h-0.9zM38.5 70.1h0.9v0.9h-0.9zM42.4 78.6h0.9v0.9h-0.9zM36.6 55.9h0.9v0.9h-0.9zM37.2 72.5h0.9v0.9h-0.9zM41.9 54.9h0.9v0.9h-0.9zM38.9 53.0h0.9v0.9h-0.9zM37.5 58.0h0.9v0.9h-0.9zM41.5 56.4h0.9v0.9h-0.9zM37.6 82.5h0.9v0.9h-0.9zM42.8 54.2h0.9v0.9h-0.9zM37.9 61.6h0.9v0.9h-0.9zM42.0 63.9h0.9v0.9h-0.9zM39.4 72.0h0.9v0.9h-0.9zM42.5 82.8h0.9v0.9h-0.9zM38.1 68.9h0.9v0.9h-0.9zM42.5 78.6h0.9v0.9h-0.9zM38.1 50.1h0.9v0.9h-0.9zM39.1 70.8h0.9v0.9h-0.9zM40.4 51.7h0.9v0.9h-0.9zM39.9 79.0h0.9v0.9h-0.9zM40.7 68.2h0.9v0.9h-0.9zM40.9 50.3h0.9v0.9h-0.9zM37.9 78.2h0.9v0.9h-0.9zM36.1 65.5h0.9v0.9h-0.9zM41.1 63.9h0.9v0.9h-0.9zM40.2 48.2h0.9v0.9h-0.9zM39.9 80.4h0.9v0.9h-0.9zM39.5 65.0h0.9v0.9h-0.9zM42.5 78.7h0.9v0.9h-0.9zM38.1 47.9h0.9v0.9h-0.9zM42.4 71.5h0.9v0.9h-0.9zM37.2 59.6h0.9v0.9h-0.9zM40.9 65.9h0.9v0.9h-0.9zM42.6 69.3h0.9v0.9h-0.9zM37.1 77.2h0.9v0.9h-0.9zM41.4 81.0h0.9v0.9h-0.9zM37.9 51.5h0.9v0.9h-0.9zM36.4 78.5h0.9v0.9h-0.9zM39.0 49.6h0.9v0.9h-0.9zM40.9 45.4h0.9v0.9h-0.9zM38.0 56.7h0.9v0.9h-0.9zM42.7 56.1h0.9v0.9h-0.9zM36.0 75.1h0.9v0.9h-0.9zM37.9 66.9h0.9v0.9h-0.9zM38.4 60.1h0.9v0.9h-0.9zM38.6 75.8h0.9v0.9h-0.9zM38.1 81.5h0.9v0.9h-0.9zM36.1 70.0h0.9v0.9h-0.9zM37.5 70.5h0.9v0.9h-0.9zM37.8 78.6h0.9v0.9h-0.9zM40.7 56.4h0.9v0.9h-0.9zM41.1 51.9h0.9v0.9h-0.9zM39.1 46.8h0.9v0.9h-0.9zM38.4 77.1h0.9v0.9h-0.9zM37.1 51.8h0.9v0.9h-0.9zM37.6 58.1h0.9v0.9h-0.9zM42.3 65.0h0.9v0.9h-0.9zM39.2 49.3h0.9v0.9h-0.9zM38.2 61.5h0.9v0.9h-0.9zM37.5 58.8h0.9v0.9h-0.9zM42.1 48.3h0.9v0.9h-0.9zM40.9 68.5h0.9v0.9h-0.9zM40.9 62.6h0.9v0.9h-0.9zM41.6 51.2h0.9v0.9h-0.9zM37.7 75.7h0.9v0.9h-0.9zM41.1 61.0h0.9v0.9h-0.9zM36.5 46.0h0.9v0.9h-0.9zM40.7 79.3h0.9v0.9h-0.9zM38.3 61.0h0.9v0.9h-0.9zM40.6 48.6h0.9v0.9h-0.9zM37.6 56.3h0.9v0.9h-0.9zM38.5 54.9h0.9v0.9h-0.9zM40.7 46.7h0.9v0.9h-0.9zM42.6 57.9h0.9v0.9h-0.9zM38.4 51.6h0.9v0.9h-0.9zM37.2 53.3h0.9v0.9h-0.9zM36.9 71.3h0.9v0.9h-0.9zM40.7 51.2h0.9v0.9h-0.9zM42.3 45.8h0.9v0.9h-0.9zM36.1 52.0h0.9v0.9h-0.9zM38.4 56.5h0.9v0.9h-0.9zM37.2 51.4h0.9v0.9h-0.9zM42.7 68.3h0.9v0.9h-0.9zM36.9 79.3h0.9v0.9h-0.9zM36.5 77.4h0.9v0.9h-0.9zM41.4 63.3h0.9v0.9h-0.9zM43.0 75.6h0.9v0.9h-0.9zM41.4 75.8h0.9v0.9h-0.9zM36.8 69.8h0.9v0.9h-0.9zM38.9 76.3h0.9v0.9h-0.9zM39.6 59.8h0.9v0.9h-0.9zM42.3 74.2h0.9v0.9h-0.9zM41.3 65.4h0.9v0.9h-0.9zM36.4 73.8h0.9v0.9h-0.9zM39.2 73.8h0.9v0.9h-0.9zM41.5 47.6h0.9v0.9h-0.9zM39.8 77.5h0.9v0.9h-0.9zM40.7 46.4h0.9v0.9h-0.9zM42.8 61.7h0.9v0.9h-0.9zM42.9 68.0h0.9v0.9h-0.9zM41.9 77.1h0.9v0.9h-0.9zM40.0 47.2h0.9v0.9h-0.9zM38.2 71.2h0.9v0.9h-0.9zM37.1 58.5h0.9v0.9h-0.9zM37.2 46.6h0.9v0.9h-0.9zM40.5 58.0h0.9v0.9h-0.9zM41.4 70.0h0.9v0.9h-0.9zM42.0 48.2h0.9v0.9h-0.9zM42.4 78.1h0.9v0.9h-0.9zM38.0 46.7h0.9v0.9h-0.9zM38.3 54.3h0.9v0.9h-0.9zM37.4 57.9h0.9v0.9h-0.9zM39.8 47.5h0.9v0.9h-0.9zM42.6 81.1h0.9v0.9h-0.9zM41.3 82.7h0.9v0.9h-0.9zM39.1 80.3h0.9v0.9h-0.9zM37.1 52.8h0.9v0.9h-0.9zM41.9 77.5h0.9v0.9h-0.9zM42.3 58.2h0.9v0.9h-0.9zM41.4 56.3h0.9v0.9h-0.9zM38.0 71.9h0.9v0.9h-0.9zM38.7 48.3h0.9v0.9h-0.9zM40.1 45.2h0.9v0.9h-0.9zM42.4 81.3h0.9v0.9h-0.9zM37.7 58.8h0.9v0.9h-0.9zM38.9 76.0h0.9v0.9h-0.9z" fill="#000" fill-opacity="0.3"/>
<path d="M53.9 78.4h0.8v0.8h-0.8zM46.5 83.0h0.8v0.8h-0.8zM54.9 83.0h0.8v0.8h-0.8zM48.3 77.9h0.8v0.8h-0.8zM46.3 73.3h0.8v0.8h-0.8zM44.9 77.2h0.8v0.8h-0.8zM53.3 74.4h0.8v0.8h-0.8zM50.2 74.7h0.8v0.8h-0.8zM51.9 74.7h0.8v0.8h-0.8zM65.7 73.2h0.8v0.8h-0.8zM62.7 71.0h0.8v0.8h-0.8zM60.0 80.5h0.8v0.8h-0.8zM49.9 70.7h0.8v0.8h-0.8zM61.0 78.1h0.8v0.8h-0.8zM59.9 75.4h0.8v0.8h-0.8zM56.1 79.1h0.8v0.8h-0.8zM49.8 78.2h0.8v0.8h-0.8zM49.1 76.9h0.8v0.8h-0.8zM53.7 80.8h0.8v0.8h-0.8zM50.6 78.1h0.8v0.8h-0.8zM64.0 82.4h0.8v0.8h-0.8zM54.7 78.3h0.8v0.8h-0.8zM59.4 82.2h0.8v0.8h-0.8zM64.2 82.0h0.8v0.8h-0.8zM58.2 79.9h0.8v0.8h-0.8zM48.0 74.9h0.8v0.8h-0.8zM51.5 77.0h0.8v0.8h-0.8zM64.8 71.6h0.8v0.8h-0.8zM45.5 80.1h0.8v0.8h-0.8zM49.4 79.1h0.8v0.8h-0.8zM58.1 81.4h0.8v0.8h-0.8zM63.3 71.6h0.8v0.8h-0.8zM62.5 72.2h0.8v0.8h-0.8zM60.6 79.1h0.8v0.8h-0.8zM59.9 80.2h0.8v0.8h-0.8zM52.7 71.5h0.8v0.8h-0.8zM45.9 70.9h0.8v0.8h-0.8zM58.5 74.8h0.8v0.8h-0.8zM46.1 75.0h0.8v0.8h-0.8zM62.1 71.2h0.8v0.8h-0.8zM47.4 71.8h0.8v0.8h-0.8zM45.0 73.2h0.8v0.8h-0.8zM66.5 70.7h0.8v0.8h-0.8zM48.2 72.5h0.8v0.8h-0.8zM57.3 70.8h0.8v0.8h-0.8zM45.9 75.4h0.8v0.8h-0.8zM66.1 80.5h0.8v0.8h-0.8zM44.9 79.3h0.8v0.8h-0.8zM59.6 78.5h0.8v0.8h-0.8zM63.1 76.7h0.8v0.8h-0.8zM51.0 73.0h0.8v0.8h-0.8zM44.7 71.1h0.8v0.8h-0.8zM45.3 73.0h0.8v0.8h-0.8zM45.8 83.1h0.8v0.8h-0.8zM61.1 81.3h0.8v0.8h-0.8zM56.1 78.1h0.8v0.8h-0.8zM64.2 78.7h0.8v0.8h-0.8zM58.4 80.4h0.8v0.8h-0.8zM57.6 81.4h0.8v0.8h-0.8zM48.9 73.7h0.8v0.8h-0.8zM49.4 81.2h0.8v0.8h-0.8zM66.0 79.1h0.8v0.8h-0.8zM65.5 74.2h0.8v0.8h-0.8zM54.1 74.3h0.8v0.8h-0.8zM62.0 72.8h0.8v0.8h-0.8zM60.3 77.8h0.8v0.8h-0.8zM50.6 83.4h0.8v0.8h-0.8zM48.9 81.0h0.8v0.8h-0.8zM61.0 72.7h0.8v0.8h-0.8zM65.7 72.1h0.8v0.8h-0.8zM66.1 74.2h0.8v0.8h-0.8zM52.4 72.7h0.8v0.8h-0.8zM45.9 72.4h0.8v0.8h-0.8zM51.5 80.2h0.8v0.8h-0.8zM46.0 74.7h0.8v0.8h-0.8zM66.2 78.0h0.8v0.8h-0.8zM51.3 74.7h0.8v0.8h-0.8zM63.1 83.6h0.8v0.8h-0.8zM49.9 78.4h0.8v0.8h-0.8zM65.6 72.4h0.8v0.8h-0.8zM55.3 80.8h0.8v0.8h-0.8zM62.8 74.4h0.8v0.8h-0.8zM57.7 76.6h0.8v0.8h-0.8zM61.4 74.3h0.8v0.8h-0.8zM46.1 77.0h0.8v0.8h-0.8zM46.4 74.6h0.8v0.8h-0.8zM52.4 74.8h0.8v0.8h-0.8zM63.8 72.6h0.8v0.8h-0.8zM64.5 83.3h0.8v0.8h-0.8zM60.1 73.3h0.8v0.8h-0.8zM57.7 74.3h0.8v0.8h-0.8zM45.6 76.0h0.8v0.8h-0.8zM64.9 72.1h0.8v0.8h-0.8zM59.0 73.5h0.8v0.8h-0.8zM58.0 75.9h0.8v0.8h-0.8zM63.0 78.3h0.8v0.8h-0.8zM49.7 77.6h0.8v0.8h-0.8zM58.1 75.4h0.8v0.8h-0.8zM59.5 79.5h0.8v0.8h-0.8zM61.1 80.4h0.8v0.8h-0.8zM46.6 74.0h0.8v0.8h-0.8zM60.5 73.7h0.8v0.8h-0.8zM64.4 78.8h0.8v0.8h-0.8zM58.3 76.0h0.8v0.8h-0.8zM48.2 81.5h0.8v0.8h-0.8zM64.7 70.6h0.8v0.8h-0.8zM46.7 77.7h0.8v0.8h-0.8zM49.6 75.1h0.8v0.8h-0.8zM63.3 73.3h0.8v0.8h-0.8zM57.5 82.0h0.8v0.8h-0.8zM51.9 73.4h0.8v0.8h-0.8zM62.2 81.0h0.8v0.8h-0.8zM58.7 81.9h0.8v0.8h-0.8zM47.1 83.4h0.8v0.8h-0.8zM49.6 72.0h0.8v0.8h-0.8zM62.3 72.6h0.8v0.8h-0.8zM62.3 71.6h0.8v0.8h-0.8zM46.1 74.8h0.8v0.8h-0.8zM56.0 82.6h0.8v0.8h-0.8zM60.2 79.1h0.8v0.8h-0.8zM51.7 72.6h0.8v0.8h-0.8zM45.9 71.9h0.8v0.8h-0.8zM53.7 80.5h0.8v0.8h-0.8zM65.1 78.8h0.8v0.8h-0.8zM60.6 70.5h0.8v0.8h-0.8zM49.2 78.3h0.8v0.8h-0.8zM63.1 73.0h0.8v0.8h-0.8zM59.2 74.4h0.8v0.8h-0.8zM50.9 71.8h0.8v0.8h-0.8zM48.4 76.6h0.8v0.8h-0.8zM53.4 78.7h0.8v0.8h-0.8zM52.4 73.2h0.8v0.8h-0.8zM50.8 75.5h0.8v0.8h-0.8zM63.7 79.1h0.8v0.8h-0.8zM61.2 80.4h0.8v0.8h-0.8zM55.3 82.6h0.8v0.8h-0.8zM65.7 73.8h0.8v0.8h-0.8zM59.3 73.7h0.8v0.8h-0.8zM65.4 75.9h0.8v0.8h-0.8zM62.6 74.6h0.8v0.8h-0.8zM58.5 81.4h0.8v0.8h-0.8zM59.8 75.4h0.8v0.8h-0.8zM61.5 75.5h0.8v0.8h-0.8zM61.2 77.2h0.8v0.8h-0.8zM63.7 78.0h0.8v0.8h-0.8zM52.0 75.2h0.8v0.8h-0.8zM52.5 70.6h0.8v0.8h-0.8zM49.9 80.3h0.8v0.8h-0.8zM64.8 72.0h0.8v0.8h-0.8zM64.4 81.9h0.8v0.8h-0.8zM54.2 73.8h0.8v0.8h-0.8zM53.3 73.9h0.8v0.8h-0.8zM47.4 77.6h0.8v0.8h-0.8zM66.0 82.6h0.8v0.8h-0.8zM59.3 75.6h0.8v0.8h-0.8zM65.7 76.9h0.8v0.8h-0.8zM58.4 76.0h0.8v0.8h-0.8zM55.8 72.0h0.8v0.8h-0.8zM61.0 74.3h0.8v0.8h-0.8zM64.0 82.7h0.8v0.8h-0.8zM63.1 83.0h0.8v0.8h-0.8zM52.1 73.9h0.8v0.8h-0.8zM55.6 82.7h0.8v0.8h-0.8zM65.3 70.7h0.8v0.8h-0.8zM55.6 80.1h0.8v0.8h-0.8zM62.1 70.8h0.8v0.8h-0.8zM56.0 76.2h0.8v0.8h-0.8zM62.8 76.0h0.8v0.8h-0.8zM46.0 76.3h0.8v0.8h-0.8zM44.5 83.0h0.8v0.8h-0.8zM46.5 75.2h0.8v0.8h-0.8zM54.1 70.7h0.8v0.8h-0.8zM52.6 72.0h0.8v0.8h-0.8zM65.6 80.5h0.8v0.8h-0.8zM66.4 72.2h0.8v0.8h-0.8zM47.5 71.3h0.8v0.8h-0.8zM62.9 73.1h0.8v0.8h-0.8zM55.7 83.5h0.8v0.8h-0.8zM63.0 76.4h0.8v0.8h-0.8zM52.6 72.5h0.8v0.8h-0.8zM61.5 79.3h0.8v0.8h-0.8zM44.6 75.5h0.8v0.8h-0.8zM54.8 77.9h0.8v0.8h-0.8zM50.0 79.8h0.8v0.8h-0.8zM51.1 77.6h0.8v0.8h-0.8zM55.4 77.2h0.8v0.8h-0.8zM56.0 76.5h0.8v0.8h-0.8zM60.7 81.8h0.8v0.8h-0.8zM62.7 83.2h0.8v0.8h-0.8zM65.7 80.1h0.8v0.8h-0.8zM59.2 75.4h0.8v0.8h-0.8zM50.1 75.9h0.8v0.8h-0.8zM57.2 70.6h0.8v0.8h-0.8zM54.1 73.7h0.8v0.8h-0.8zM49.7 80.8h0.8v0.8h-0.8zM51.8 77.0h0.8v0.8h-0.8zM49.5 81.9h0.8v0.8h-0.8zM56.4 79.4h0.8v0.8h-0.8zM46.0 78.0h0.8v0.8h-0.8zM56.5 81.2h0.8v0.8h-0.8zM53.6 77.1h0.8v0.8h-0.8zM44.6 79.4h0.8v0.8h-0.8zM50.6 77.0h0.8v0.8h-0.8zM65.9 75.2h0.8v0.8h-0.8zM57.3 80.7h0.8v0.8h-0.8zM45.9 71.4h0.8v0.8h-0.8zM57.2 83.5h0.8v0.8h-0.8zM60.0 83.3h0.8v0.8h-0.8zM47.5 81.5h0.8v0.8h-0.8zM53.4 76.7h0.8v0.8h-0.8zM49.2 76.5h0.8v0.8h-0.8zM56.4 75.9h0.8v0.8h-0.8zM62.6 76.6h0.8v0.8h-0.8zM49.8 73.4h0.8v0.8h-0.8zM47.6 81.1h0.8v0.8h-0.8zM47.6 82.2h0.8v0.8h-0.8zM58.0 77.2h0.8v0.8h-0.8zM46.0 81.8h0.8v0.8h-0.8zM56.1 74.4h0.8v0.8h-0.8zM62.3 81.9h0.8v0.8h-0.8zM61.4 83.4h0.8v0.8h-0.8zM59.2 79.4h0.8v0.8h-0.8zM44.7 83.3h0.8v0.8h-0.8zM54.0 80.2h0.8v0.8h-0.8zM49.9 79.7h0.8v0.8h-0.8zM55.8 76.8h0.8v0.8h-0.8zM47.8 71.3h0.8v0.8h-0.8zM47.5 72.2h0.8v0.8h-0.8zM65.4 81.5h0.8v0.8h-0.8zM63.9 72.9h0.8v0.8h-0.8zM46.6 79.6h0.8v0.8h-0.8zM62.7 72.6h0.8v0.8h-0.8zM46.0 80.5h0.8v0.8h-0.8zM52.0 83.2h0.8v0.8h-0.8zM66.4 78.7h0.8v0.8h-0.8zM65.2 71.0h0.8v0.8h-0.8zM54.8 80.3h0.8v0.8h-0.8zM59.9 76.8h0.8v0.8h-0.8zM52.9 82.0h0.8v0.8h-0.8zM63.2 72.5h0.8v0.8h-0.8zM51.5 74.2h0.8v0.8h-0.8zM49.0 82.7h0.8v0.8h-0.8zM47.7 81.6h0.8v0.8h-0.8zM58.4 82.6h0.8v0.8h-0.8zM56.8 77.4h0.8v0.8h-0.8zM64.4 79.5h0.8v0.8h-0.8zM47.7 82.9h0.8v0.8h-0.8zM62.2 79.3h0.8v0.8h-0.8zM65.3 71.7h0.8v0.8h-0.8zM60.9 72.6h0.8v0.8h-0.8zM47.0 70.5h0.8v0.8h-0.8zM47.9 72.0h0.8v0.8h-0.8zM46.4 70.9h0.8v0.8h-0.8zM51.8 75.6h0.8v0.8h-0.8zM61.2 78.7h0.8v0.8h-0.8zM47.7 82.0h0.8v0.8h-0.8zM54.4 75.9h0.8v0.8h-0.8zM45.5 72.6h0.8v0.8h-0.8zM59.4 82.6h0.8v0.8h-0.8zM46.7 82.7h0.8v0.8h-0.8zM61.9 83.5h0.8v0.8h-0.8zM58.0 70.8h0.8v0.8h-0.8zM48.7 78.4h0.8v0.8h-0.8zM59.9 78.9h0.8v0.8h-0.8zM52.2 77.6h0.8v0.8h-0.8zM56.0 73.0h0.8v0.8h-0.8zM56.7 82.7h0.8v0.8h-0.8zM50.5 77.6h0.8v0.8h-0.8zM53.7 71.0h0.8v0.8h-0.8zM61.8 75.1h0.8v0.8h-0.8zM63.5 80.2h0.8v0.8h-0.8zM63.2 73.2h0.8v0.8h-0.8zM57.0 80.8h0.8v0.8h-0.8zM63.7 73.3h0.8v0.8h-0.8zM47.6 76.3h0.8v0.8h-0.8zM66.1 74.4h0.8v0.8h-0.8zM45.5 72.2h0.8v0.8h-0.8zM64.3 82.3h0.8v0.8h-0.8zM61.9 75.0h0.8v0.8h-0.8zM53.1 80.5h0.8v0.8h-0.8zM61.9 82.4h0.8v0.8h-0.8zM65.6 74.3h0.8v0.8h-0.8zM48.1 70.6h0.8v0.8h-0.8zM58.8 77.5h0.8v0.8h-0.8zM44.6 73.6h0.8v0.8h-0.8zM59.1 82.1h0.8v0.8h-0.8zM45.9 72.7h0.8v0.8h-0.8zM59.2 80.1h0.8v0.8h-0.8zM45.1 70.8h0.8v0.8h-0.8zM53.4 74.1h0.8v0.8h-0.8zM63.6 73.1h0.8v0.8h-0.8zM51.2 81.8h0.8v0.8h-0.8zM65.8 78.5h0.8v0.8h-0.8zM54.9 79.3h0.8v0.8h-0.8zM48.5 71.6h0.8v0.8h-0.8zM65.1 74.6h0.8v0.8h-0.8zM47.9 82.4h0.8v0.8h-0.8z" fill="#000" fill-opacity="0.22"/>
<path d="M39.4 83.2h0.8v0.8h-0.8zM43.3 82.6h0.8v0.8h-0.8zM36.3 83.0h0.8v0.8h-0.8zM28.1 83.4h0.8v0.8h-0.8zM47.6 83.3h0.8v0.8h-0.8zM29.8 83.5h0.8v0.8h-0.8zM27.2 82.9h0.8v0.8h-0.8zM40.3 83.1h0.8v0.8h-0.8zM24.9 82.8h0.8v0.8h-0.8zM43.5 82.8h0.8v0.8h-0.8zM42.1 82.7h0.8v0.8h-0.8zM33.0 82.8h0.8v0.8h-0.8zM36.7 82.8h0.8v0.8h-0.8zM35.9 83.0h0.8v0.8h-0.8zM24.6 83.0h0.8v0.8h-0.8zM24.7 83.4h0.8v0.8h-0.8zM32.2 83.4h0.8v0.8h-0.8zM22.7 83.1h0.8v0.8h-0.8zM27.6 83.3h0.8v0.8h-0.8zM32.6 83.1h0.8v0.8h-0.8zM39.7 82.9h0.8v0.8h-0.8zM36.7 83.1h0.8v0.8h-0.8zM27.3 83.2h0.8v0.8h-0.8zM43.4 83.6h0.8v0.8h-0.8zM44.3 83.4h0.8v0.8h-0.8zM40.7 82.7h0.8v0.8h-0.8zM41.4 83.2h0.8v0.8h-0.8zM29.5 82.7h0.8v0.8h-0.8zM45.6 83.2h0.8v0.8h-0.8zM38.6 83.4h0.8v0.8h-0.8zM27.4 83.3h0.8v0.8h-0.8zM41.3 82.7h0.8v0.8h-0.8zM39.8 83.0h0.8v0.8h-0.8zM38.1 82.8h0.8v0.8h-0.8zM35.5 83.3h0.8v0.8h-0.8zM43.6 83.3h0.8v0.8h-0.8zM42.6 83.3h0.8v0.8h-0.8zM38.7 83.0h0.8v0.8h-0.8zM24.3 83.2h0.8v0.8h-0.8zM28.9 82.8h0.8v0.8h-0.8zM49.4 83.5h0.8v0.8h-0.8zM33.6 83.5h0.8v0.8h-0.8zM39.9 82.6h0.8v0.8h-0.8zM26.1 83.2h0.8v0.8h-0.8zM38.2 83.3h0.8v0.8h-0.8zM39.2 82.8h0.8v0.8h-0.8zM43.5 82.6h0.8v0.8h-0.8zM49.1 82.6h0.8v0.8h-0.8zM35.0 83.3h0.8v0.8h-0.8zM31.1 82.6h0.8v0.8h-0.8zM26.9 83.0h0.8v0.8h-0.8zM31.7 83.4h0.8v0.8h-0.8zM34.7 82.7h0.8v0.8h-0.8zM49.0 83.3h0.8v0.8h-0.8zM36.6 83.0h0.8v0.8h-0.8zM41.1 83.0h0.8v0.8h-0.8zM42.7 83.1h0.8v0.8h-0.8zM22.9 83.0h0.8v0.8h-0.8zM28.9 83.5h0.8v0.8h-0.8zM37.4 83.3h0.8v0.8h-0.8zM24.1 83.0h0.8v0.8h-0.8zM26.6 82.7h0.8v0.8h-0.8zM43.2 83.1h0.8v0.8h-0.8zM41.0 83.6h0.8v0.8h-0.8zM26.3 83.5h0.8v0.8h-0.8zM25.7 82.7h0.8v0.8h-0.8zM45.7 83.0h0.8v0.8h-0.8zM35.5 83.1h0.8v0.8h-0.8zM31.2 83.0h0.8v0.8h-0.8zM42.3 82.7h0.8v0.8h-0.8zM40.9 82.8h0.8v0.8h-0.8zM49.8 83.1h0.8v0.8h-0.8zM25.3 83.3h0.8v0.8h-0.8zM43.6 83.3h0.8v0.8h-0.8zM35.2 83.3h0.8v0.8h-0.8zM29.3 83.3h0.8v0.8h-0.8zM36.2 82.6h0.8v0.8h-0.8zM23.1 82.8h0.8v0.8h-0.8zM25.9 82.9h0.8v0.8h-0.8zM25.5 82.9h0.8v0.8h-0.8zM41.5 83.0h0.8v0.8h-0.8zM42.0 83.0h0.8v0.8h-0.8zM29.2 82.9h0.8v0.8h-0.8zM30.9 82.6h0.8v0.8h-0.8zM43.7 83.5h0.8v0.8h-0.8zM33.2 83.6h0.8v0.8h-0.8zM32.1 83.2h0.8v0.8h-0.8zM48.5 82.9h0.8v0.8h-0.8zM37.5 83.1h0.8v0.8h-0.8zM37.3 83.5h0.8v0.8h-0.8z" fill="#000" fill-opacity="0.35"/>
<path d="M52.9 62.6h0.8v0.8h-0.8zM54.3 64.3h0.8v0.8h-0.8zM54.3 64.9h0.8v0.8h-0.8zM58.2 60.0h0.8v0.8h-0.8zM53.7 53.4h0.8v0.8h-0.8zM46.0 49.3h0.8v0.8h-0.8zM51.6 62.7h0.8v0.8h-0.8zM57.4 62.7h0.8v0.8h-0.8zM46.3 62.2h0.8v0.8h-0.8zM45.2 59.4h0.8v0.8h-0.8zM45.2 60.8h0.8v0.8h-0.8zM45.5 61.9h0.8v0.8h-0.8zM46.8 58.6h0.8v0.8h-0.8zM55.3 60.9h0.8v0.8h-0.8zM52.9 53.0h0.8v0.8h-0.8zM54.7 58.6h0.8v0.8h-0.8zM52.3 60.3h0.8v0.8h-0.8zM49.5 59.2h0.8v0.8h-0.8zM55.5 53.6h0.8v0.8h-0.8zM46.9 51.3h0.8v0.8h-0.8zM49.5 60.8h0.8v0.8h-0.8zM50.3 51.0h0.8v0.8h-0.8zM54.0 63.3h0.8v0.8h-0.8zM55.2 52.3h0.8v0.8h-0.8zM52.4 62.9h0.8v0.8h-0.8zM53.0 55.4h0.8v0.8h-0.8zM48.4 65.2h0.8v0.8h-0.8zM52.8 53.1h0.8v0.8h-0.8zM56.3 51.8h0.8v0.8h-0.8zM50.7 61.2h0.8v0.8h-0.8zM55.0 62.9h0.8v0.8h-0.8zM51.6 55.3h0.8v0.8h-0.8zM51.7 57.5h0.8v0.8h-0.8zM53.0 60.9h0.8v0.8h-0.8zM46.5 54.3h0.8v0.8h-0.8zM47.5 56.0h0.8v0.8h-0.8zM47.0 59.2h0.8v0.8h-0.8zM52.0 54.5h0.8v0.8h-0.8zM53.9 51.6h0.8v0.8h-0.8zM54.4 65.4h0.8v0.8h-0.8zM47.4 51.2h0.8v0.8h-0.8zM49.2 66.8h0.8v0.8h-0.8zM46.5 64.2h0.8v0.8h-0.8zM53.7 57.0h0.8v0.8h-0.8zM50.4 64.5h0.8v0.8h-0.8zM48.3 50.2h0.8v0.8h-0.8zM47.6 59.1h0.8v0.8h-0.8zM57.8 55.4h0.8v0.8h-0.8zM51.2 54.4h0.8v0.8h-0.8zM58.4 65.1h0.8v0.8h-0.8zM49.0 49.7h0.8v0.8h-0.8zM47.5 64.5h0.8v0.8h-0.8zM54.5 50.4h0.8v0.8h-0.8zM57.3 61.2h0.8v0.8h-0.8zM46.8 54.1h0.8v0.8h-0.8zM56.6 58.5h0.8v0.8h-0.8zM52.7 65.7h0.8v0.8h-0.8zM57.2 63.4h0.8v0.8h-0.8zM57.7 50.8h0.8v0.8h-0.8zM50.5 54.5h0.8v0.8h-0.8zM57.7 57.8h0.8v0.8h-0.8zM47.0 61.9h0.8v0.8h-0.8zM50.7 49.1h0.8v0.8h-0.8zM50.7 64.6h0.8v0.8h-0.8zM47.9 64.2h0.8v0.8h-0.8zM51.3 66.2h0.8v0.8h-0.8zM55.0 52.6h0.8v0.8h-0.8zM46.0 52.8h0.8v0.8h-0.8zM51.2 64.0h0.8v0.8h-0.8zM51.9 58.3h0.8v0.8h-0.8zM47.3 53.4h0.8v0.8h-0.8zM53.5 49.3h0.8v0.8h-0.8zM48.0 52.9h0.8v0.8h-0.8zM52.5 61.2h0.8v0.8h-0.8zM52.5 62.2h0.8v0.8h-0.8zM55.0 55.4h0.8v0.8h-0.8zM57.6 65.5h0.8v0.8h-0.8zM57.5 58.2h0.8v0.8h-0.8zM51.5 58.3h0.8v0.8h-0.8zM48.2 56.1h0.8v0.8h-0.8zM47.9 56.3h0.8v0.8h-0.8zM55.5 55.5h0.8v0.8h-0.8zM55.1 63.8h0.8v0.8h-0.8zM55.6 56.9h0.8v0.8h-0.8zM56.2 53.2h0.8v0.8h-0.8zM52.4 56.8h0.8v0.8h-0.8zM57.1 65.7h0.8v0.8h-0.8zM53.7 60.5h0.8v0.8h-0.8zM53.3 50.9h0.8v0.8h-0.8zM56.2 56.5h0.8v0.8h-0.8zM53.6 57.4h0.8v0.8h-0.8zM55.3 49.3h0.8v0.8h-0.8zM57.5 66.3h0.8v0.8h-0.8zM50.0 65.5h0.8v0.8h-0.8zM55.0 50.8h0.8v0.8h-0.8zM48.7 58.9h0.8v0.8h-0.8zM51.3 54.6h0.8v0.8h-0.8zM56.7 52.8h0.8v0.8h-0.8zM58.1 53.9h0.8v0.8h-0.8zM57.8 50.0h0.8v0.8h-0.8z" fill="#000" fill-opacity="0.3"/>
<path d="M50.2 59.9h0.9v0.9h-0.9zM51.2 57.3h0.9v0.9h-0.9zM51.9 58.0h0.9v0.9h-0.9zM49.5 59.9h0.9v0.9h-0.9zM52.8 58.2h0.9v0.9h-0.9zM50.4 61.6h0.9v0.9h-0.9zM51.4 59.5h0.9v0.9h-0.9zM50.5 59.7h0.9v0.9h-0.9zM50.4 59.4h0.9v0.9h-0.9zM50.9 60.3h0.9v0.9h-0.9zM51.0 59.2h0.9v0.9h-0.9zM51.2 59.2h0.9v0.9h-0.9zM50.5 59.1h0.9v0.9h-0.9zM50.4 61.0h0.9v0.9h-0.9zM49.5 60.6h0.9v0.9h-0.9zM49.8 61.0h0.9v0.9h-0.9zM49.7 59.4h0.9v0.9h-0.9zM50.6 59.1h0.9v0.9h-0.9zM52.2 57.6h0.9v0.9h-0.9zM50.0 60.1h0.9v0.9h-0.9zM49.9 60.3h0.9v0.9h-0.9zM51.4 59.2h0.9v0.9h-0.9zM50.1 60.4h0.9v0.9h-0.9zM50.3 61.3h0.9v0.9h-0.9zM49.6 58.9h0.9v0.9h-0.9zM50.2 60.9h0.9v0.9h-0.9zM50.7 60.0h0.9v0.9h-0.9zM51.4 57.0h0.9v0.9h-0.9zM50.5 58.6h0.9v0.9h-0.9zM51.4 59.2h0.9v0.9h-0.9zM49.9 59.8h0.9v0.9h-0.9zM51.1 58.3h0.9v0.9h-0.9zM51.3 59.1h0.9v0.9h-0.9zM51.3 58.3h0.9v0.9h-0.9zM50.9 59.6h0.9v0.9h-0.9zM50.3 59.3h0.9v0.9h-0.9zM50.1 60.7h0.9v0.9h-0.9zM50.6 60.7h0.9v0.9h-0.9zM50.7 59.8h0.9v0.9h-0.9zM49.6 59.2h0.9v0.9h-0.9zM50.9 59.8h0.9v0.9h-0.9zM50.7 59.6h0.9v0.9h-0.9zM49.2 61.1h0.9v0.9h-0.9zM53.2 56.9h0.9v0.9h-0.9zM50.1 58.8h0.9v0.9h-0.9zM51.3 60.3h0.9v0.9h-0.9zM49.6 60.6h0.9v0.9h-0.9zM52.2 58.6h0.9v0.9h-0.9zM50.4 59.9h0.9v0.9h-0.9zM49.5 60.1h0.9v0.9h-0.9zM51.1 59.0h0.9v0.9h-0.9zM52.3 57.3h0.9v0.9h-0.9zM51.2 59.2h0.9v0.9h-0.9zM52.1 58.3h0.9v0.9h-0.9zM49.9 60.0h0.9v0.9h-0.9zM51.6 58.6h0.9v0.9h-0.9zM49.7 61.8h0.9v0.9h-0.9zM50.5 59.6h0.9v0.9h-0.9zM50.9 58.3h0.9v0.9h-0.9zM50.7 58.6h0.9v0.9h-0.9zM51.9 58.4h0.9v0.9h-0.9zM50.8 60.1h0.9v0.9h-0.9zM49.2 61.0h0.9v0.9h-0.9zM50.3 58.9h0.9v0.9h-0.9zM50.5 60.9h0.9v0.9h-0.9zM50.8 58.0h0.9v0.9h-0.9zM50.6 59.9h0.9v0.9h-0.9zM48.6 62.0h0.9v0.9h-0.9zM51.0 57.4h0.9v0.9h-0.9zM49.8 61.0h0.9v0.9h-0.9zM49.8 60.8h0.9v0.9h-0.9zM52.7 57.7h0.9v0.9h-0.9zM52.8 58.4h0.9v0.9h-0.9zM51.4 58.3h0.9v0.9h-0.9zM50.4 60.9h0.9v0.9h-0.9zM51.5 59.3h0.9v0.9h-0.9zM50.6 59.1h0.9v0.9h-0.9zM49.8 60.1h0.9v0.9h-0.9zM51.3 60.0h0.9v0.9h-0.9zM50.4 59.6h0.9v0.9h-0.9zM51.0 59.1h0.9v0.9h-0.9zM49.7 60.7h0.9v0.9h-0.9zM51.3 58.5h0.9v0.9h-0.9zM49.2 61.3h0.9v0.9h-0.9zM51.3 59.3h0.9v0.9h-0.9zM51.8 58.9h0.9v0.9h-0.9zM50.1 60.1h0.9v0.9h-0.9zM49.8 59.6h0.9v0.9h-0.9zM52.2 57.2h0.9v0.9h-0.9zM49.9 59.3h0.9v0.9h-0.9zM51.5 57.7h0.9v0.9h-0.9zM51.9 58.8h0.9v0.9h-0.9zM51.1 61.0h0.9v0.9h-0.9zM51.5 58.6h0.9v0.9h-0.9zM50.0 59.6h0.9v0.9h-0.9zM51.3 59.2h0.9v0.9h-0.9zM48.3 61.1h0.9v0.9h-0.9zM50.5 59.2h0.9v0.9h-0.9zM52.2 58.5h0.9v0.9h-0.9zM51.9 58.4h0.9v0.9h-0.9zM50.8 58.0h0.9v0.9h-0.9zM49.9 59.2h0.9v0.9h-0.9zM51.1 59.7h0.9v0.9h-0.9zM50.0 60.6h0.9v0.9h-0.9zM50.3 59.5h0.9v0.9h-0.9zM50.8 59.7h0.9v0.9h-0.9zM50.2 59.7h0.9v0.9h-0.9zM50.0 58.8h0.9v0.9h-0.9zM50.8 60.0h0.9v0.9h-0.9zM49.9 60.2h0.9v0.9h-0.9zM49.7 60.1h0.9v0.9h-0.9zM50.6 58.5h0.9v0.9h-0.9zM52.2 57.5h0.9v0.9h-0.9zM51.0 58.3h0.9v0.9h-0.9zM50.8 60.0h0.9v0.9h-0.9zM52.5 56.5h0.9v0.9h-0.9zM51.5 59.2h0.9v0.9h-0.9zM50.2 59.9h0.9v0.9h-0.9zM50.9 58.6h0.9v0.9h-0.9zM50.8 57.6h0.9v0.9h-0.9zM48.9 61.2h0.9v0.9h-0.9zM50.0 61.3h0.9v0.9h-0.9zM52.2 60.0h0.9v0.9h-0.9zM49.2 60.7h0.9v0.9h-0.9zM49.3 60.7h0.9v0.9h-0.9zM51.7 58.2h0.9v0.9h-0.9zM48.9 62.7h0.9v0.9h-0.9zM51.2 58.2h0.9v0.9h-0.9zM51.0 59.2h0.9v0.9h-0.9zM50.9 57.7h0.9v0.9h-0.9zM50.5 59.5h0.9v0.9h-0.9zM52.1 58.1h0.9v0.9h-0.9zM51.4 59.9h0.9v0.9h-0.9zM49.8 60.7h0.9v0.9h-0.9zM50.5 59.6h0.9v0.9h-0.9zM51.1 59.3h0.9v0.9h-0.9zM50.0 61.6h0.9v0.9h-0.9zM51.6 58.5h0.9v0.9h-0.9zM49.7 60.4h0.9v0.9h-0.9zM51.1 59.2h0.9v0.9h-0.9zM51.0 60.0h0.9v0.9h-0.9zM50.4 59.3h0.9v0.9h-0.9zM50.1 59.2h0.9v0.9h-0.9zM51.0 59.5h0.9v0.9h-0.9zM51.5 58.6h0.9v0.9h-0.9zM51.6 59.0h0.9v0.9h-0.9zM50.4 60.0h0.9v0.9h-0.9zM50.6 59.1h0.9v0.9h-0.9zM51.4 58.0h0.9v0.9h-0.9zM50.8 58.3h0.9v0.9h-0.9zM50.9 58.4h0.9v0.9h-0.9zM50.5 59.2h0.9v0.9h-0.9zM50.4 59.5h0.9v0.9h-0.9zM51.1 59.8h0.9v0.9h-0.9zM50.7 58.3h0.9v0.9h-0.9zM50.7 59.4h0.9v0.9h-0.9zM51.5 57.7h0.9v0.9h-0.9zM53.5 56.4h0.9v0.9h-0.9zM50.9 59.4h0.9v0.9h-0.9zM51.8 57.4h0.9v0.9h-0.9zM51.8 58.5h0.9v0.9h-0.9zM51.7 58.0h0.9v0.9h-0.9zM50.1 60.0h0.9v0.9h-0.9zM52.3 58.4h0.9v0.9h-0.9zM50.8 59.9h0.9v0.9h-0.9zM51.8 59.3h0.9v0.9h-0.9zM52.2 58.3h0.9v0.9h-0.9zM52.3 57.8h0.9v0.9h-0.9zM50.5 60.0h0.9v0.9h-0.9zM50.0 59.6h0.9v0.9h-0.9zM50.5 60.5h0.9v0.9h-0.9zM49.4 61.6h0.9v0.9h-0.9zM50.8 59.9h0.9v0.9h-0.9zM50.5 59.7h0.9v0.9h-0.9zM50.6 59.1h0.9v0.9h-0.9zM50.3 59.3h0.9v0.9h-0.9zM51.3 59.2h0.9v0.9h-0.9zM52.0 58.7h0.9v0.9h-0.9zM49.1 61.7h0.9v0.9h-0.9zM52.4 57.3h0.9v0.9h-0.9zM51.2 60.1h0.9v0.9h-0.9zM50.1 59.7h0.9v0.9h-0.9zM50.5 59.5h0.9v0.9h-0.9zM51.0 58.0h0.9v0.9h-0.9zM51.4 59.5h0.9v0.9h-0.9zM51.2 58.9h0.9v0.9h-0.9zM51.4 58.0h0.9v0.9h-0.9zM50.1 58.9h0.9v0.9h-0.9zM51.0 58.9h0.9v0.9h-0.9zM51.6 59.0h0.9v0.9h-0.9zM50.1 60.1h0.9v0.9h-0.9zM51.4 58.0h0.9v0.9h-0.9zM50.7 60.1h0.9v0.9h-0.9zM50.7 58.3h0.9v0.9h-0.9zM50.5 59.9h0.9v0.9h-0.9zM51.0 59.6h0.9v0.9h-0.9zM50.3 59.5h0.9v0.9h-0.9zM51.2 58.0h0.9v0.9h-0.9zM51.5 58.5h0.9v0.9h-0.9zM51.4 58.4h0.9v0.9h-0.9zM50.6 59.5h0.9v0.9h-0.9zM50.3 60.3h0.9v0.9h-0.9zM50.1 60.7h0.9v0.9h-0.9zM50.8 58.5h0.9v0.9h-0.9zM50.4 59.3h0.9v0.9h-0.9zM52.2 57.6h0.9v0.9h-0.9zM52.9 57.1h0.9v0.9h-0.9zM52.0 58.7h0.9v0.9h-0.9zM50.9 58.4h0.9v0.9h-0.9zM52.4 57.9h0.9v0.9h-0.9zM52.4 57.5h0.9v0.9h-0.9zM50.4 60.0h0.9v0.9h-0.9zM51.6 58.6h0.9v0.9h-0.9zM52.4 57.6h0.9v0.9h-0.9zM49.8 62.6h0.9v0.9h-0.9zM50.2 59.3h0.9v0.9h-0.9zM51.3 59.2h0.9v0.9h-0.9zM50.2 60.1h0.9v0.9h-0.9zM51.3 58.4h0.9v0.9h-0.9zM50.1 61.5h0.9v0.9h-0.9zM52.3 57.8h0.9v0.9h-0.9zM51.4 57.6h0.9v0.9h-0.9zM50.8 59.1h0.9v0.9h-0.9zM51.5 58.5h0.9v0.9h-0.9zM49.2 60.6h0.9v0.9h-0.9zM52.4 57.7h0.9v0.9h-0.9zM51.3 58.5h0.9v0.9h-0.9zM50.7 59.7h0.9v0.9h-0.9zM50.5 60.1h0.9v0.9h-0.9zM50.8 61.0h0.9v0.9h-0.9zM50.6 59.8h0.9v0.9h-0.9zM49.0 61.8h0.9v0.9h-0.9zM51.9 59.3h0.9v0.9h-0.9zM50.5 59.4h0.9v0.9h-0.9zM49.9 60.2h0.9v0.9h-0.9zM50.5 58.6h0.9v0.9h-0.9zM51.5 59.3h0.9v0.9h-0.9zM51.3 58.9h0.9v0.9h-0.9zM51.5 58.7h0.9v0.9h-0.9zM51.7 58.1h0.9v0.9h-0.9z" fill="#000" fill-opacity="0.6"/>
<path d="M78.6 54.1h0.8v0.8h-0.8zM50.0 50.1h0.8v0.8h-0.8zM41.7 79.4h0.8v0.8h-0.8zM83.8 62.8h0.8v0.8h-0.8zM46.6 69.9h0.8v0.8h-0.8zM35.4 44.2h0.8v0.8h-0.8zM43.1 77.5h0.8v0.8h-0.8zM79.9 73.2h0.8v0.8h-0.8zM85.0 26.7h0.8v0.8h-0.8zM51.1 62.6h0.8v0.8h-0.8zM53.6 78.0h0.8v0.8h-0.8zM60.3 62.0h0.8v0.8h-0.8zM75.7 82.2h0.8v0.8h-0.8zM22.6 37.4h0.8v0.8h-0.8zM72.9 58.0h0.8v0.8h-0.8zM84.2 54.6h0.8v0.8h-0.8zM47.9 39.6h0.8v0.8h-0.8zM50.0 70.2h0.8v0.8h-0.8zM83.3 48.2h0.8v0.8h-0.8zM48.0 61.9h0.8v0.8h-0.8zM46.1 70.3h0.8v0.8h-0.8zM77.0 66.8h0.8v0.8h-0.8zM52.3 27.3h0.8v0.8h-0.8zM63.4 24.5h0.8v0.8h-0.8zM40.3 72.7h0.8v0.8h-0.8zM65.5 62.0h0.8v0.8h-0.8zM45.5 30.3h0.8v0.8h-0.8zM72.1 29.2h0.8v0.8h-0.8zM53.5 52.3h0.8v0.8h-0.8zM80.8 32.2h0.8v0.8h-0.8zM57.0 79.6h0.8v0.8h-0.8zM76.9 35.1h0.8v0.8h-0.8zM50.2 80.5h0.8v0.8h-0.8zM64.8 66.1h0.8v0.8h-0.8zM39.1 56.0h0.8v0.8h-0.8zM59.5 63.3h0.8v0.8h-0.8zM64.4 64.6h0.8v0.8h-0.8zM34.2 39.0h0.8v0.8h-0.8zM56.8 51.8h0.8v0.8h-0.8zM81.0 25.2h0.8v0.8h-0.8zM34.9 24.0h0.8v0.8h-0.8zM53.2 80.4h0.8v0.8h-0.8zM75.6 74.6h0.8v0.8h-0.8zM49.3 68.5h0.8v0.8h-0.8zM23.9 27.6h0.8v0.8h-0.8z" fill="#000" fill-opacity="0.2"/>
</g>
<rect x="21.6" y="20.6" width="65.4" height="63.6" fill="none" stroke="#b4b4b4" stroke-width="1"/>
<rect x="22.3" y="32.3" width="20.6" height="51.6" fill="none" stroke="#a8a8a8" stroke-width="0.9"/>
<rect x="44.3" y="70.3" width="22.9" height="13.6" fill="none" stroke="#a8a8a8" stroke-width="0.9"/>
<rect x="44.4" y="48.7" width="14.6" height="18.8" fill="none" stroke="#111" stroke-width="1.5"/>
<text x="32.3" y="30.4" font-size="5.7" font-weight="bold" text-anchor="middle" fill="#222" stroke="#222" stroke-width="0.25">A</text>
<text x="51.6" y="45.9" font-size="5.7" font-weight="bold" text-anchor="middle" fill="#222" stroke="#222" stroke-width="0.25">B</text>
<text x="70.9" y="78.0" font-size="5.7" font-weight="bold" text-anchor="middle" fill="#222" stroke="#222" stroke-width="0.25">C</text>
<text x="17.5" y="21.8" font-size="3.6" font-weight="bold" text-anchor="middle" fill="#555" >10</text>
<text x="17.5" y="37.7" font-size="3.6" font-weight="bold" text-anchor="middle" fill="#555" >10</text>
<text x="17.5" y="53.6" font-size="3.6" font-weight="bold" text-anchor="middle" fill="#555" >10</text>
<text x="17.5" y="69.5" font-size="3.6" font-weight="bold" text-anchor="middle" fill="#555" >10</text>
<text x="17.5" y="85.4" font-size="3.6" font-weight="bold" text-anchor="middle" fill="#555" >10</text>
<text x="22.1" y="90.0" font-size="3.6" font-weight="bold" text-anchor="middle" fill="#555" >10</text>
<text x="38.4" y="90.0" font-size="3.6" font-weight="bold" text-anchor="middle" fill="#555" >10</text>
<text x="54.8" y="90.0" font-size="3.6" font-weight="bold" text-anchor="middle" fill="#555" >10</text>
<text x="71.1" y="90.0" font-size="3.6" font-weight="bold" text-anchor="middle" fill="#555" >10</text>
<text x="87.5" y="90.0" font-size="3.6" font-weight="bold" text-anchor="middle" fill="#555" >10</text>
<text x="56.5" y="100.6" font-size="10" font-weight="normal" text-anchor="middle" fill="#000" stroke="#000" stroke-width="0.2">CD94/NKG2A</text>
<text x="0" y="0" font-size="10" text-anchor="middle" stroke="#000" stroke-width="0.2" transform="translate(13.3 50.2) rotate(-90)">CD117</text>
<rect x="118.1" y="21.0" width="64.1" height="64.4" fill="none" stroke="#b4b4b4" stroke-width="1"/>
<path d="M116.80 23.70h1.3M116.80 26.17h1.3M116.80 28.64h1.3M116.80 31.11h1.3M116.80 33.58h1.3M116.80 36.05h1.3M116.80 38.52h1.3M116.80 40.99h1.3M116.80 43.46h1.3M116.80 45.93h1.3M116.80 48.40h1.3M116.80 50.87h1.3M116.80 53.34h1.3M116.80 55.81h1.3M116.80 58.28h1.3M116.80 60.75h1.3M116.80 63.22h1.3M116.80 65.69h1.3M116.80 68.16h1.3M116.80 70.63h1.3M116.80 73.10h1.3M116.80 75.57h1.3M116.80 78.04h1.3M116.80 80.51h1.3M116.80 82.98h1.3M116.80 85.45h1.3" stroke="#888" stroke-width="0.6" fill="none"/>
<text x="115.5" y="24.7" font-size="3.6" font-weight="bold" text-anchor="end" fill="#555" >100</text>
<text x="115.5" y="37.05" font-size="3.6" font-weight="bold" text-anchor="end" fill="#555" >80</text>
<text x="115.5" y="49.4" font-size="3.6" font-weight="bold" text-anchor="end" fill="#555" >60</text>
<text x="115.5" y="61.75" font-size="3.6" font-weight="bold" text-anchor="end" fill="#555" >40</text>
<text x="115.5" y="74.1" font-size="3.6" font-weight="bold" text-anchor="end" fill="#555" >20</text>
<text x="115.5" y="86.45" font-size="3.6" font-weight="bold" text-anchor="end" fill="#555" >0</text>
<text x="118.8" y="91.0" font-size="3.6" font-weight="bold" text-anchor="middle" fill="#555" >10</text>
<text x="134.8" y="91.0" font-size="3.6" font-weight="bold" text-anchor="middle" fill="#555" >10</text>
<text x="150.7" y="91.0" font-size="3.6" font-weight="bold" text-anchor="middle" fill="#555" >10</text>
<text x="166.7" y="91.0" font-size="3.6" font-weight="bold" text-anchor="middle" fill="#555" >10</text>
<text x="182.7" y="91.0" font-size="3.6" font-weight="bold" text-anchor="middle" fill="#555" >10</text>
<defs><linearGradient id="gA" x1="0" y1="0" x2="0" y2="1"><stop offset="0" stop-color="#d6d6d6"/><stop offset="0.45" stop-color="#b4b4b4"/><stop offset="1" stop-color="#a0a0a0"/></linearGradient></defs>
<path d="M121.00 85.40 L123.00 84.60 L126.00 83.40 L129.00 83.60 L132.00 84.20 L135.00 84.00 L137.50 82.40 L140.00 80.60 L142.50 79.00 L144.30 76.80 L145.50 72.00 L146.60 65.40 L147.10 57.00 L148.50 53.00 L149.80 47.00 L150.60 38.00 L151.00 29.00 L151.60 25.50 L152.50 27.00 L153.50 25.50 L154.50 27.50 L155.50 26.50 L156.50 29.00 L157.30 38.00 L158.00 54.00 L159.10 65.40 L160.20 73.40 L161.40 80.20 L163.10 84.20 L165.00 85.40 Z" fill="url(#gA)" stroke="#aaa" stroke-width="0.4"/>
<path d="M152.3 70 L152.8 27 L153.3 70 Z M154.4 70 L154.9 28 L155.4 70Z M156.3 70 L156.7 30 L157.2 70Z" fill="#999" fill-opacity="0.3"/>
<path d="M118.80 85.30 L119.08 84.77 L119.49 84.02 L119.93 83.09 L120.30 82.00 L120.57 80.77 L120.79 79.38 L121.00 77.80 L121.20 76.00 L121.40 73.96 L121.59 71.71 L121.79 69.27 L122.00 66.70 L122.24 64.02 L122.49 61.21 L122.75 58.21 L123.00 55.00 L123.25 51.41 L123.49 47.52 L123.74 43.62 L124.00 40.00 L124.29 36.60 L124.59 33.30 L124.90 30.35 L125.20 28.00 L125.48 26.30 L125.76 25.11 L126.03 24.42 L126.30 24.20 L126.58 24.38 L126.86 24.99 L127.13 26.15 L127.40 28.00 L127.67 30.81 L127.94 34.42 L128.19 38.33 L128.40 42.00 L128.53 45.35 L128.61 48.64 L128.68 51.86 L128.80 55.00 L128.99 58.01 L129.21 60.92 L129.45 63.80 L129.70 66.70 L129.96 69.80 L130.23 73.01 L130.51 76.01 L130.80 78.50 L131.07 80.35 L131.34 81.74 L131.64 82.81 L132.00 83.70 L131.37 84.37 L130.08 84.77 L130.25 85.01 L134.00 85.20 L143.89 85.33 L158.12 85.34 L172.30 85.31 L182.00 85.30" fill="none" stroke="#a0a0a0" stroke-width="0.9"/>
<path d="M118.30 85.30 L119.70 84.30 L122.00 82.60 L123.80 78.50 L125.60 73.80 L126.70 67.30 L127.90 72.60 L129.70 76.10 L131.40 79.60 L133.80 82.00 L136.10 82.60 L137.90 80.20 L139.00 76.70 L140.20 77.40 L141.40 76.80 L142.80 79.60 L144.10 76.10 L145.30 71.40 L146.20 65.60 L147.30 58.50 L147.90 50.00 L148.50 38.00 L149.00 28.00 L149.40 25.00 L150.00 30.70 L151.00 40.10 L152.00 48.20 L153.40 56.20 L154.20 60.00 L155.00 64.40 L156.10 70.20 L156.70 74.90 L157.90 80.80 L159.70 83.70 L162.00 84.90 L164.00 85.30 L182.20 85.30" fill="none" stroke="#000" stroke-width="1.35" stroke-linejoin="round"/>
<text x="133.2" y="31.1" font-size="5.7" font-weight="bold" text-anchor="middle" fill="#222" stroke="#222" stroke-width="0.25">A</text>
<text x="143.7" y="45.2" font-size="5.7" font-weight="bold" text-anchor="middle" fill="#222" stroke="#222" stroke-width="0.25">B</text>
<text x="165.3" y="77.8" font-size="5.7" font-weight="bold" text-anchor="middle" fill="#222" stroke="#222" stroke-width="0.25">C</text>
<text x="150.5" y="100.6" font-size="10" font-weight="normal" text-anchor="middle" fill="#000" stroke="#000" stroke-width="0.2">LFA-1</text>
<line x1="201.5" y1="29.2" x2="218.8" y2="29.2" stroke="#1a1a1a" stroke-width="0.75"/>
<line x1="201.5" y1="41.6" x2="218.8" y2="41.6" stroke="#000" stroke-width="1.6"/>
<rect x="201.9" y="52.8" width="16.9" height="4.8" fill="#8a8a8a"/>
<text x="223.8" y="32.0" font-size="7.6" textLength="73.4" lengthAdjust="spacingAndGlyphs" fill="#111">CD117<tspan dy="-2.6" font-size="5.2">+</tspan><tspan dy="2.6">CD94/NKG2A</tspan><tspan dy="-2.6" font-size="5.2">&#8211;</tspan></text>
<text x="223.8" y="44.2" font-size="7.6" textLength="73.4" lengthAdjust="spacingAndGlyphs" fill="#111">CD117<tspan dy="-2.6" font-size="5.2">+</tspan><tspan dy="2.6">CD94/NKG2A</tspan><tspan dy="-2.6" font-size="5.2">+</tspan></text>
<text x="223.8" y="57.9" font-size="7.6" textLength="73.4" lengthAdjust="spacingAndGlyphs" fill="#111">CD117<tspan dy="-2.6" font-size="5.2">&#8211;</tspan><tspan dy="2.6">CD94/NKG2A</tspan><tspan dy="-2.6" font-size="5.2">+</tspan></text>
<defs><pattern id="dots" width="2" height="2" patternUnits="userSpaceOnUse"><rect width="2" height="2" fill="#b9b9b9"/><rect x="0" y="0" width="1" height="1" fill="#9c9c9c"/></pattern></defs>
<rect x="22.4" y="119.5" width="64.0" height="64.1" fill="none" stroke="#b0b0b0" stroke-width="1"/>
<path d="M24.50 183.50 L26.00 180.00 L28.00 172.00 L30.00 155.00 L31.50 140.00 L32.80 128.00 L34.10 123.40 L35.20 128.00 L36.50 140.00 L37.50 150.00 L38.30 154.00 L40.00 157.50 L42.00 160.00 L43.50 163.00 L45.00 165.50 L46.60 167.50 L48.00 165.50 L49.50 168.00 L51.00 172.50 L53.00 176.50 L55.00 179.50 L57.50 181.50 L61.00 183.00 L64.00 183.50 Z" fill="url(#dots)" stroke="#777" stroke-width="0.6"/>
<path d="M23.00 183.30 L24.00 178.00 L25.50 170.00 L27.00 160.00 L28.50 148.00 L30.00 138.00 L31.50 128.00 L32.50 123.40 L33.50 126.00 L34.50 133.00 L35.50 145.00 L36.50 158.00 L37.30 170.00 L38.00 180.00 L39.00 183.30" fill="none" stroke="#222" stroke-width="0.9" stroke-dasharray="1.6 1.2"/>
<path d="M21.60 183.30 L28.00 182.80 L34.80 181.00 L37.00 180.20 L39.80 178.60 L41.50 177.50 L43.20 175.20 L44.50 171.00 L45.70 166.80 L47.40 161.00 L49.00 155.90 L50.50 150.00 L51.40 143.20 L52.80 142.50 L54.10 133.80 L55.40 127.00 L56.40 123.70 L57.40 133.80 L58.30 143.00 L59.50 150.00 L60.80 158.40 L62.00 164.00 L63.30 170.00 L64.50 175.00 L65.80 179.40 L67.50 182.00 L69.20 183.30 L86.40 183.30" fill="none" stroke="#000" stroke-width="1.2" stroke-linejoin="round"/>
<path d="M21.10 122.20h1.3M21.10 124.64h1.3M21.10 127.09h1.3M21.10 129.53h1.3M21.10 131.98h1.3M21.10 134.42h1.3M21.10 136.86h1.3M21.10 139.31h1.3M21.10 141.75h1.3M21.10 144.20h1.3M21.10 146.64h1.3M21.10 149.08h1.3M21.10 151.53h1.3M21.10 153.97h1.3M21.10 156.42h1.3M21.10 158.86h1.3M21.10 161.30h1.3M21.10 163.75h1.3M21.10 166.19h1.3M21.10 168.64h1.3M21.10 171.08h1.3M21.10 173.52h1.3M21.10 175.97h1.3M21.10 178.41h1.3M21.10 180.86h1.3M21.10 183.30h1.3" stroke="#888" stroke-width="0.6" fill="none"/>
<text x="20.4" y="124.0" font-size="3.6" font-weight="bold" text-anchor="end" fill="#555" >100</text>
<text x="20.4" y="136.22000000000003" font-size="3.6" font-weight="bold" text-anchor="end" fill="#555" >80</text>
<text x="20.4" y="148.44000000000003" font-size="3.6" font-weight="bold" text-anchor="end" fill="#555" >60</text>
<text x="20.4" y="160.66000000000003" font-size="3.6" font-weight="bold" text-anchor="end" fill="#555" >40</text>
<text x="20.4" y="172.88000000000002" font-size="3.6" font-weight="bold" text-anchor="end" fill="#555" >20</text>
<text x="20.4" y="185.10000000000002" font-size="3.6" font-weight="bold" text-anchor="end" fill="#555" >0</text>
<text x="23.2" y="189.4" font-size="3.6" font-weight="bold" text-anchor="middle" fill="#555" >10</text>
<text x="39.199999999999996" y="189.4" font-size="3.6" font-weight="bold" text-anchor="middle" fill="#555" >10</text>
<text x="55.199999999999996" y="189.4" font-size="3.6" font-weight="bold" text-anchor="middle" fill="#555" >10</text>
<text x="71.2" y="189.4" font-size="3.6" font-weight="bold" text-anchor="middle" fill="#555" >10</text>
<text x="87.2" y="189.4" font-size="3.6" font-weight="bold" text-anchor="middle" fill="#555" >10</text>
<text x="55.300000000000004" y="198.8" font-size="9.9" font-weight="normal" text-anchor="middle" fill="#000" stroke="#000" stroke-width="0.2">NKp46</text>
<rect x="105.9" y="119.5" width="63.69999999999999" height="64.1" fill="none" stroke="#b0b0b0" stroke-width="1"/>
<path d="M107.30 183.50 L107.60 165.00 L108.50 152.00 L110.00 138.00 L111.00 128.00 L112.10 123.80 L113.30 128.00 L114.20 138.00 L115.10 145.20 L117.10 165.30 L118.90 177.80 L120.10 182.80 L121.00 183.50 Z" fill="url(#dots)" stroke="#777" stroke-width="0.6"/>
<path d="M108.00 183.30 L108.60 170.00 L109.50 150.00 L110.50 134.00 L111.80 124.80 L113.00 130.00 L113.90 145.00 L114.60 160.00 L115.10 175.00 L115.50 183.30" fill="none" stroke="#222" stroke-width="0.9" stroke-dasharray="1.6 1.2"/>
<path d="M106.40 183.30 L106.40 125.50 L107.20 172.00 L108.80 152.70 L110.10 137.60 L111.30 126.30 L112.60 123.80 L113.80 132.60 L115.10 136.40 L116.40 142.60 L117.60 152.70 L118.90 162.70 L120.10 170.30 L122.10 177.80 L124.60 181.60 L127.70 183.30 L169.60 183.30" fill="none" stroke="#000" stroke-width="1.2" stroke-linejoin="round"/>
<path d="M104.60 122.20h1.3M104.60 124.64h1.3M104.60 127.09h1.3M104.60 129.53h1.3M104.60 131.98h1.3M104.60 134.42h1.3M104.60 136.86h1.3M104.60 139.31h1.3M104.60 141.75h1.3M104.60 144.20h1.3M104.60 146.64h1.3M104.60 149.08h1.3M104.60 151.53h1.3M104.60 153.97h1.3M104.60 156.42h1.3M104.60 158.86h1.3M104.60 161.30h1.3M104.60 163.75h1.3M104.60 166.19h1.3M104.60 168.64h1.3M104.60 171.08h1.3M104.60 173.52h1.3M104.60 175.97h1.3M104.60 178.41h1.3M104.60 180.86h1.3M104.60 183.30h1.3" stroke="#888" stroke-width="0.6" fill="none"/>
<text x="103.9" y="124.0" font-size="3.6" font-weight="bold" text-anchor="end" fill="#555" >100</text>
<text x="103.9" y="136.22000000000003" font-size="3.6" font-weight="bold" text-anchor="end" fill="#555" >80</text>
<text x="103.9" y="148.44000000000003" font-size="3.6" font-weight="bold" text-anchor="end" fill="#555" >60</text>
<text x="103.9" y="160.66000000000003" font-size="3.6" font-weight="bold" text-anchor="end" fill="#555" >40</text>
<text x="103.9" y="172.88000000000002" font-size="3.6" font-weight="bold" text-anchor="end" fill="#555" >20</text>
<text x="103.9" y="185.10000000000002" font-size="3.6" font-weight="bold" text-anchor="end" fill="#555" >0</text>
<text x="106.7" y="189.4" font-size="3.6" font-weight="bold" text-anchor="middle" fill="#555" >10</text>
<text x="122.625" y="189.4" font-size="3.6" font-weight="bold" text-anchor="middle" fill="#555" >10</text>
<text x="138.55" y="189.4" font-size="3.6" font-weight="bold" text-anchor="middle" fill="#555" >10</text>
<text x="154.47500000000002" y="189.4" font-size="3.6" font-weight="bold" text-anchor="middle" fill="#555" >10</text>
<text x="170.4" y="189.4" font-size="3.6" font-weight="bold" text-anchor="middle" fill="#555" >10</text>
<text x="138.65" y="198.8" font-size="9.9" font-weight="normal" text-anchor="middle" fill="#000" stroke="#000" stroke-width="0.2">NKp30</text>
<rect x="190.9" y="119.5" width="63.5" height="64.1" fill="none" stroke="#b0b0b0" stroke-width="1"/>
<path d="M192.20 183.50 L192.70 175.00 L196.00 173.50 L199.70 171.00 L203.00 166.00 L206.80 159.00 L209.50 152.00 L211.50 146.00 L213.80 138.50 L216.20 132.30 L217.50 129.00 L218.50 131.00 L219.50 128.70 L220.50 131.00 L221.50 133.40 L222.50 140.00 L223.20 142.80 L224.50 155.00 L225.60 164.00 L226.20 172.00 L226.70 179.20 L228.00 182.50 L230.00 183.50 Z" fill="url(#dots)" stroke="#777" stroke-width="0.6"/>
<path d="M193.00 183.30 L193.50 172.00 L193.90 164.00 L194.60 145.20 L195.50 130.00 L196.90 122.90 L197.80 132.00 L198.60 140.50 L199.20 152.00 L199.70 164.00 L200.30 174.00 L200.90 180.40 L201.30 183.30" fill="none" stroke="#222" stroke-width="0.9" stroke-dasharray="1.6 1.2"/>
<path d="M191.10 183.30 L191.30 121.50 L192.00 150.00 L192.70 162.80 L195.00 140.50 L197.40 147.50 L199.70 145.20 L200.90 154.60 L202.60 149.90 L204.40 145.20 L206.30 122.90 L208.00 141.60 L209.60 140.50 L211.50 145.20 L212.60 139.30 L214.30 148.70 L215.70 140.50 L216.90 122.90 L217.80 142.80 L219.00 156.90 L220.40 164.00 L222.00 173.30 L223.20 179.90 L225.60 182.30 L228.00 183.30 L254.40 183.30" fill="none" stroke="#000" stroke-width="1.2" stroke-linejoin="round"/>
<path d="M189.60 122.20h1.3M189.60 124.64h1.3M189.60 127.09h1.3M189.60 129.53h1.3M189.60 131.98h1.3M189.60 134.42h1.3M189.60 136.86h1.3M189.60 139.31h1.3M189.60 141.75h1.3M189.60 144.20h1.3M189.60 146.64h1.3M189.60 149.08h1.3M189.60 151.53h1.3M189.60 153.97h1.3M189.60 156.42h1.3M189.60 158.86h1.3M189.60 161.30h1.3M189.60 163.75h1.3M189.60 166.19h1.3M189.60 168.64h1.3M189.60 171.08h1.3M189.60 173.52h1.3M189.60 175.97h1.3M189.60 178.41h1.3M189.60 180.86h1.3M189.60 183.30h1.3" stroke="#888" stroke-width="0.6" fill="none"/>
<text x="188.9" y="124.0" font-size="3.6" font-weight="bold" text-anchor="end" fill="#555" >100</text>
<text x="188.9" y="136.22000000000003" font-size="3.6" font-weight="bold" text-anchor="end" fill="#555" >80</text>
<text x="188.9" y="148.44000000000003" font-size="3.6" font-weight="bold" text-anchor="end" fill="#555" >60</text>
<text x="188.9" y="160.66000000000003" font-size="3.6" font-weight="bold" text-anchor="end" fill="#555" >40</text>
<text x="188.9" y="172.88000000000002" font-size="3.6" font-weight="bold" text-anchor="end" fill="#555" >20</text>
<text x="188.9" y="185.10000000000002" font-size="3.6" font-weight="bold" text-anchor="end" fill="#555" >0</text>
<text x="191.70000000000002" y="189.4" font-size="3.6" font-weight="bold" text-anchor="middle" fill="#555" >10</text>
<text x="207.57500000000002" y="189.4" font-size="3.6" font-weight="bold" text-anchor="middle" fill="#555" >10</text>
<text x="223.45000000000002" y="189.4" font-size="3.6" font-weight="bold" text-anchor="middle" fill="#555" >10</text>
<text x="239.32500000000002" y="189.4" font-size="3.6" font-weight="bold" text-anchor="middle" fill="#555" >10</text>
<text x="255.20000000000002" y="189.4" font-size="3.6" font-weight="bold" text-anchor="middle" fill="#555" >10</text>
<text x="223.45000000000002" y="198.8" font-size="9.9" font-weight="normal" text-anchor="middle" fill="#000" stroke="#000" stroke-width="0.2">NKp44</text>
<rect x="274.6" y="119.5" width="63.69999999999999" height="64.1" fill="none" stroke="#b0b0b0" stroke-width="1"/>
<path d="M276.20 183.50 L277.20 170.00 L278.50 155.00 L280.00 140.00 L281.50 128.00 L283.30 124.00 L284.50 132.00 L286.10 147.50 L288.40 155.70 L292.00 162.80 L295.50 168.60 L299.00 175.70 L302.50 181.60 L304.50 183.50 Z" fill="url(#dots)" stroke="#777" stroke-width="0.6"/>
<path d="M276.70 183.30 L277.30 170.00 L277.90 160.00 L279.00 145.00 L280.50 130.00 L282.10 122.90 L283.50 130.00 L284.90 140.50 L285.50 152.00 L286.10 164.00 L286.70 172.00 L287.30 180.40 L287.80 183.30" fill="none" stroke="#222" stroke-width="0.9" stroke-dasharray="1.6 1.2"/>
<path d="M275.20 183.30 L281.00 181.50 L284.00 178.50 L286.10 174.90 L289.20 167.40 L291.30 155.30 L292.80 140.20 L293.70 134.20 L294.60 136.00 L295.50 123.60 L296.70 134.20 L297.60 129.60 L298.80 143.20 L300.40 135.70 L301.90 146.30 L303.40 149.30 L304.30 152.30 L305.80 158.30 L307.30 162.80 L308.20 170.40 L309.40 178.00 L310.90 182.50 L312.50 183.30 L338.30 183.30" fill="none" stroke="#000" stroke-width="1.2" stroke-linejoin="round"/>
<path d="M273.30 122.20h1.3M273.30 124.64h1.3M273.30 127.09h1.3M273.30 129.53h1.3M273.30 131.98h1.3M273.30 134.42h1.3M273.30 136.86h1.3M273.30 139.31h1.3M273.30 141.75h1.3M273.30 144.20h1.3M273.30 146.64h1.3M273.30 149.08h1.3M273.30 151.53h1.3M273.30 153.97h1.3M273.30 156.42h1.3M273.30 158.86h1.3M273.30 161.30h1.3M273.30 163.75h1.3M273.30 166.19h1.3M273.30 168.64h1.3M273.30 171.08h1.3M273.30 173.52h1.3M273.30 175.97h1.3M273.30 178.41h1.3M273.30 180.86h1.3M273.30 183.30h1.3" stroke="#888" stroke-width="0.6" fill="none"/>
<text x="272.6" y="124.0" font-size="3.6" font-weight="bold" text-anchor="end" fill="#555" >100</text>
<text x="272.6" y="136.22000000000003" font-size="3.6" font-weight="bold" text-anchor="end" fill="#555" >80</text>
<text x="272.6" y="148.44000000000003" font-size="3.6" font-weight="bold" text-anchor="end" fill="#555" >60</text>
<text x="272.6" y="160.66000000000003" font-size="3.6" font-weight="bold" text-anchor="end" fill="#555" >40</text>
<text x="272.6" y="172.88000000000002" font-size="3.6" font-weight="bold" text-anchor="end" fill="#555" >20</text>
<text x="272.6" y="185.10000000000002" font-size="3.6" font-weight="bold" text-anchor="end" fill="#555" >0</text>
<text x="275.40000000000003" y="189.4" font-size="3.6" font-weight="bold" text-anchor="middle" fill="#555" >10</text>
<text x="291.32500000000005" y="189.4" font-size="3.6" font-weight="bold" text-anchor="middle" fill="#555" >10</text>
<text x="307.25000000000006" y="189.4" font-size="3.6" font-weight="bold" text-anchor="middle" fill="#555" >10</text>
<text x="323.175" y="189.4" font-size="3.6" font-weight="bold" text-anchor="middle" fill="#555" >10</text>
<text x="339.1" y="189.4" font-size="3.6" font-weight="bold" text-anchor="middle" fill="#555" >10</text>
<text x="308.35" y="198.8" font-size="9.9" font-weight="normal" text-anchor="middle" fill="#000" stroke="#000" stroke-width="0.2">NKG2D</text>
<rect x="359.5" y="119.5" width="64.0" height="64.1" fill="none" stroke="#b0b0b0" stroke-width="1"/>
<path d="M359.90 183.50 L360.60 165.00 L361.50 145.00 L362.50 128.00 L363.40 123.60 L364.40 130.00 L365.70 147.50 L366.90 155.70 L368.60 159.30 L370.40 161.60 L372.80 160.40 L375.10 161.60 L377.50 165.10 L379.80 167.50 L382.20 172.20 L384.00 179.20 L385.70 182.30 L387.00 183.50 Z" fill="url(#dots)" stroke="#777" stroke-width="0.6"/>
<path d="M359.90 183.30 L360.50 165.00 L361.30 145.00 L362.20 130.00 L362.90 124.00 L363.70 130.00 L364.60 140.00 L365.70 152.00 L366.30 165.00 L366.90 180.40 L367.30 183.30" fill="none" stroke="#222" stroke-width="0.9" stroke-dasharray="1.6 1.2"/>
<path d="M359.90 183.30 L360.00 179.20 L362.20 177.50 L364.60 179.20 L366.90 174.50 L369.30 175.70 L371.60 173.30 L374.00 168.60 L375.60 159.30 L377.00 149.90 L378.60 139.30 L379.80 129.90 L381.00 124.00 L382.60 132.30 L384.00 138.10 L385.20 135.80 L386.40 145.20 L388.00 158.10 L389.20 168.60 L390.40 176.90 L392.00 181.60 L394.00 183.30 L423.50 183.30" fill="none" stroke="#000" stroke-width="1.2" stroke-linejoin="round"/>
<path d="M358.20 122.20h1.3M358.20 124.64h1.3M358.20 127.09h1.3M358.20 129.53h1.3M358.20 131.98h1.3M358.20 134.42h1.3M358.20 136.86h1.3M358.20 139.31h1.3M358.20 141.75h1.3M358.20 144.20h1.3M358.20 146.64h1.3M358.20 149.08h1.3M358.20 151.53h1.3M358.20 153.97h1.3M358.20 156.42h1.3M358.20 158.86h1.3M358.20 161.30h1.3M358.20 163.75h1.3M358.20 166.19h1.3M358.20 168.64h1.3M358.20 171.08h1.3M358.20 173.52h1.3M358.20 175.97h1.3M358.20 178.41h1.3M358.20 180.86h1.3M358.20 183.30h1.3" stroke="#888" stroke-width="0.6" fill="none"/>
<text x="357.5" y="124.0" font-size="3.6" font-weight="bold" text-anchor="end" fill="#555" >100</text>
<text x="357.5" y="136.22000000000003" font-size="3.6" font-weight="bold" text-anchor="end" fill="#555" >80</text>
<text x="357.5" y="148.44000000000003" font-size="3.6" font-weight="bold" text-anchor="end" fill="#555" >60</text>
<text x="357.5" y="160.66000000000003" font-size="3.6" font-weight="bold" text-anchor="end" fill="#555" >40</text>
<text x="357.5" y="172.88000000000002" font-size="3.6" font-weight="bold" text-anchor="end" fill="#555" >20</text>
<text x="357.5" y="185.10000000000002" font-size="3.6" font-weight="bold" text-anchor="end" fill="#555" >0</text>
<text x="360.3" y="189.4" font-size="3.6" font-weight="bold" text-anchor="middle" fill="#555" >10</text>
<text x="376.3" y="189.4" font-size="3.6" font-weight="bold" text-anchor="middle" fill="#555" >10</text>
<text x="392.3" y="189.4" font-size="3.6" font-weight="bold" text-anchor="middle" fill="#555" >10</text>
<text x="408.3" y="189.4" font-size="3.6" font-weight="bold" text-anchor="middle" fill="#555" >10</text>
<text x="424.3" y="189.4" font-size="3.6" font-weight="bold" text-anchor="middle" fill="#555" >10</text>
<text x="392.3" y="198.8" font-size="9.9" font-weight="normal" text-anchor="middle" fill="#000" stroke="#000" stroke-width="0.2">DNAM-1</text>
<text x="0" y="0" font-size="7.1" font-weight="bold" text-anchor="middle" transform="translate(11.2 151.5) rotate(-90)">% of Max</text>
<line x1="431.2" y1="124.2" x2="445" y2="124.2" stroke="#000" stroke-width="1.6" stroke-dasharray="5 3.8"/>
<line x1="431.4" y1="137.0" x2="444.4" y2="137.0" stroke="#000" stroke-width="1.6"/>
<rect x="431.8" y="148.6" width="12.8" height="5.3" fill="#cccccc" stroke="#555" stroke-width="0.9"/>
<text x="447.8" y="126.3" font-size="8.9" font-weight="normal" text-anchor="start" fill="#111" >isotype control</text>
<text x="447.8" y="139.3" font-size="8.2" textLength="69.5" lengthAdjust="spacingAndGlyphs" fill="#111">CD161<tspan dy="-3.0" font-size="5.4">+</tspan><tspan dy="3.0">CD56</tspan><tspan dy="-3.0" font-size="5.4">+</tspan><tspan dy="3.0">LFA-1</tspan><tspan dy="-3.0" font-size="5.4">+</tspan></text>
<text x="447.8" y="153.8" font-size="8.2" textLength="69.5" lengthAdjust="spacingAndGlyphs" fill="#111">CD161<tspan dy="-3.0" font-size="5.4">+</tspan><tspan dy="3.0">CD56</tspan><tspan dy="-3.0" font-size="5.4">+</tspan><tspan dy="3.0">LFA-1</tspan><tspan dy="-3.0" font-size="5.4">&#8211;</tspan></text>
<rect x="106.1" y="222.7" width="191.4" height="45.5" fill="#fff" stroke="#111" stroke-width="1"/>
<line x1="258.582" y1="239.0" x2="279.8" y2="239.0" stroke="#b4b4b4" stroke-width="1.1"/>
<rect x="106.1" y="232.4" width="152.482" height="12.7" fill="#fff" stroke="#111" stroke-width="1"/>
<line x1="135.129" y1="252.1" x2="144.8" y2="252.1" stroke="#a8a8a8" stroke-width="1.1"/>
<line x1="144.6" y1="251" x2="144.6" y2="253.2" stroke="#a8a8a8" stroke-width="0.8"/>
<rect x="106.1" y="245.2" width="29.028999999999996" height="13.8" fill="#7f7f7f" stroke="#111" stroke-width="1"/>
<line x1="106.10" y1="268.2" x2="106.10" y2="270.59999999999997" stroke="#111" stroke-width="0.9"/>
<text x="106.10" y="285.3" font-size="9.0" font-weight="bold" text-anchor="middle" fill="#111" >0</text>
<line x1="138.00" y1="268.2" x2="138.00" y2="270.59999999999997" stroke="#111" stroke-width="0.9"/>
<text x="138.00" y="285.3" font-size="9.0" font-weight="bold" text-anchor="middle" fill="#111" >10</text>
<line x1="169.90" y1="268.2" x2="169.90" y2="270.59999999999997" stroke="#111" stroke-width="0.9"/>
<text x="169.90" y="285.3" font-size="9.0" font-weight="bold" text-anchor="middle" fill="#111" >20</text>
<line x1="201.80" y1="268.2" x2="201.80" y2="270.59999999999997" stroke="#111" stroke-width="0.9"/>
<text x="201.80" y="285.3" font-size="9.0" font-weight="bold" text-anchor="middle" fill="#111" >30</text>
<line x1="233.70" y1="268.2" x2="233.70" y2="270.59999999999997" stroke="#111" stroke-width="0.9"/>
<text x="233.70" y="285.3" font-size="9.0" font-weight="bold" text-anchor="middle" fill="#111" >40</text>
<line x1="265.60" y1="268.2" x2="265.60" y2="270.59999999999997" stroke="#111" stroke-width="0.9"/>
<text x="265.60" y="285.3" font-size="9.0" font-weight="bold" text-anchor="middle" fill="#111" >50</text>
<line x1="297.50" y1="268.2" x2="297.50" y2="270.59999999999997" stroke="#111" stroke-width="0.9"/>
<text x="297.50" y="285.3" font-size="9.0" font-weight="bold" text-anchor="middle" fill="#111" >60</text>
<text x="195.4" y="294.3" font-size="7.3" font-weight="bold" text-anchor="middle" fill="#111" >% of cell lysis</text>
<text x="29.0" y="243.2" font-size="7.0" font-weight="bold" textLength="71.0" lengthAdjust="spacingAndGlyphs" fill="#111">CD161<tspan dy="-2.9" font-size="5.4">+</tspan><tspan dy="2.9">CD56</tspan><tspan dy="-2.9" font-size="5.4">+</tspan><tspan dy="2.9">LFA-1</tspan><tspan dy="-2.9" font-size="5.4">+</tspan></text>
<text x="29.0" y="256.3" font-size="7.0" font-weight="bold" textLength="71.0" lengthAdjust="spacingAndGlyphs" fill="#111">CD161<tspan dy="-2.9" font-size="5.4">+</tspan><tspan dy="2.9">CD56</tspan><tspan dy="-2.9" font-size="5.4">+</tspan><tspan dy="2.9">LFA-1</tspan><tspan dy="-2.9" font-size="5.4">&#8211;</tspan></text>
</svg>
</body></html>
